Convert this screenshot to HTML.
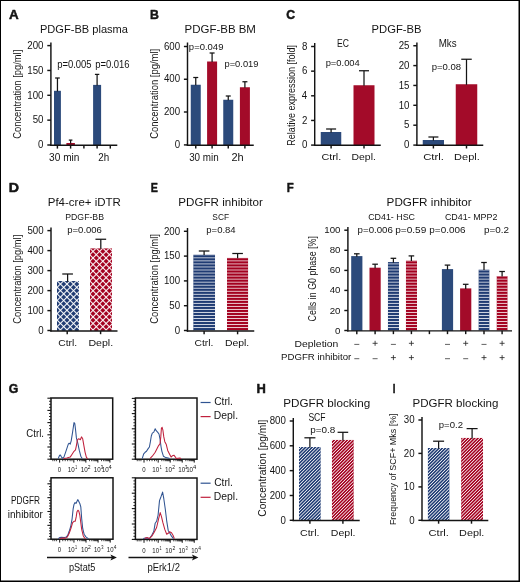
<!DOCTYPE html>
<html><head><meta charset="utf-8"><style>
html,body{margin:0;padding:0;background:#fff;}
svg{display:block;font-family:"Liberation Sans",sans-serif;will-change:transform;}
</style></head><body>
<svg width="520" height="582" viewBox="0 0 520 582">
<defs>
<clipPath id="c1"><rect x="57.00" y="281.00" width="22.00" height="49.90"/></clipPath>
<linearGradient id="g1a" gradientUnits="userSpaceOnUse" x1="57.125" y1="284.060" x2="60.400" y2="287.335" spreadMethod="repeat"><stop offset="0.0000" stop-color="#fff" stop-opacity="0.000"/><stop offset="0.0417" stop-color="#fff" stop-opacity="0.000"/><stop offset="0.0833" stop-color="#fff" stop-opacity="0.000"/><stop offset="0.1250" stop-color="#fff" stop-opacity="0.000"/><stop offset="0.1667" stop-color="#fff" stop-opacity="0.001"/><stop offset="0.2083" stop-color="#fff" stop-opacity="0.006"/><stop offset="0.2500" stop-color="#fff" stop-opacity="0.028"/><stop offset="0.2917" stop-color="#fff" stop-opacity="0.089"/><stop offset="0.3333" stop-color="#fff" stop-opacity="0.214"/><stop offset="0.3750" stop-color="#fff" stop-opacity="0.408"/><stop offset="0.4167" stop-color="#fff" stop-opacity="0.636"/><stop offset="0.4583" stop-color="#fff" stop-opacity="0.826"/><stop offset="0.5000" stop-color="#fff" stop-opacity="0.900"/><stop offset="0.5417" stop-color="#fff" stop-opacity="0.826"/><stop offset="0.5833" stop-color="#fff" stop-opacity="0.636"/><stop offset="0.6250" stop-color="#fff" stop-opacity="0.408"/><stop offset="0.6667" stop-color="#fff" stop-opacity="0.214"/><stop offset="0.7083" stop-color="#fff" stop-opacity="0.089"/><stop offset="0.7500" stop-color="#fff" stop-opacity="0.028"/><stop offset="0.7917" stop-color="#fff" stop-opacity="0.006"/><stop offset="0.8333" stop-color="#fff" stop-opacity="0.001"/><stop offset="0.8750" stop-color="#fff" stop-opacity="0.000"/><stop offset="0.9167" stop-color="#fff" stop-opacity="0.000"/><stop offset="0.9583" stop-color="#fff" stop-opacity="0.000"/><stop offset="1.0000" stop-color="#fff" stop-opacity="0.000"/></linearGradient>
<linearGradient id="g1b" gradientUnits="userSpaceOnUse" x1="57.125" y1="284.060" x2="60.400" y2="280.785" spreadMethod="repeat"><stop offset="0.0000" stop-color="#fff" stop-opacity="0.000"/><stop offset="0.0417" stop-color="#fff" stop-opacity="0.000"/><stop offset="0.0833" stop-color="#fff" stop-opacity="0.000"/><stop offset="0.1250" stop-color="#fff" stop-opacity="0.000"/><stop offset="0.1667" stop-color="#fff" stop-opacity="0.001"/><stop offset="0.2083" stop-color="#fff" stop-opacity="0.006"/><stop offset="0.2500" stop-color="#fff" stop-opacity="0.028"/><stop offset="0.2917" stop-color="#fff" stop-opacity="0.089"/><stop offset="0.3333" stop-color="#fff" stop-opacity="0.214"/><stop offset="0.3750" stop-color="#fff" stop-opacity="0.408"/><stop offset="0.4167" stop-color="#fff" stop-opacity="0.636"/><stop offset="0.4583" stop-color="#fff" stop-opacity="0.826"/><stop offset="0.5000" stop-color="#fff" stop-opacity="0.900"/><stop offset="0.5417" stop-color="#fff" stop-opacity="0.826"/><stop offset="0.5833" stop-color="#fff" stop-opacity="0.636"/><stop offset="0.6250" stop-color="#fff" stop-opacity="0.408"/><stop offset="0.6667" stop-color="#fff" stop-opacity="0.214"/><stop offset="0.7083" stop-color="#fff" stop-opacity="0.089"/><stop offset="0.7500" stop-color="#fff" stop-opacity="0.028"/><stop offset="0.7917" stop-color="#fff" stop-opacity="0.006"/><stop offset="0.8333" stop-color="#fff" stop-opacity="0.001"/><stop offset="0.8750" stop-color="#fff" stop-opacity="0.000"/><stop offset="0.9167" stop-color="#fff" stop-opacity="0.000"/><stop offset="0.9583" stop-color="#fff" stop-opacity="0.000"/><stop offset="1.0000" stop-color="#fff" stop-opacity="0.000"/></linearGradient>
<clipPath id="c2"><rect x="90.00" y="248.25" width="22.00" height="82.65"/></clipPath>
<linearGradient id="g2a" gradientUnits="userSpaceOnUse" x1="89.725" y1="251.400" x2="93.000" y2="254.675" spreadMethod="repeat"><stop offset="0.0000" stop-color="#fff" stop-opacity="0.000"/><stop offset="0.0417" stop-color="#fff" stop-opacity="0.000"/><stop offset="0.0833" stop-color="#fff" stop-opacity="0.000"/><stop offset="0.1250" stop-color="#fff" stop-opacity="0.000"/><stop offset="0.1667" stop-color="#fff" stop-opacity="0.001"/><stop offset="0.2083" stop-color="#fff" stop-opacity="0.006"/><stop offset="0.2500" stop-color="#fff" stop-opacity="0.028"/><stop offset="0.2917" stop-color="#fff" stop-opacity="0.089"/><stop offset="0.3333" stop-color="#fff" stop-opacity="0.214"/><stop offset="0.3750" stop-color="#fff" stop-opacity="0.408"/><stop offset="0.4167" stop-color="#fff" stop-opacity="0.636"/><stop offset="0.4583" stop-color="#fff" stop-opacity="0.826"/><stop offset="0.5000" stop-color="#fff" stop-opacity="0.900"/><stop offset="0.5417" stop-color="#fff" stop-opacity="0.826"/><stop offset="0.5833" stop-color="#fff" stop-opacity="0.636"/><stop offset="0.6250" stop-color="#fff" stop-opacity="0.408"/><stop offset="0.6667" stop-color="#fff" stop-opacity="0.214"/><stop offset="0.7083" stop-color="#fff" stop-opacity="0.089"/><stop offset="0.7500" stop-color="#fff" stop-opacity="0.028"/><stop offset="0.7917" stop-color="#fff" stop-opacity="0.006"/><stop offset="0.8333" stop-color="#fff" stop-opacity="0.001"/><stop offset="0.8750" stop-color="#fff" stop-opacity="0.000"/><stop offset="0.9167" stop-color="#fff" stop-opacity="0.000"/><stop offset="0.9583" stop-color="#fff" stop-opacity="0.000"/><stop offset="1.0000" stop-color="#fff" stop-opacity="0.000"/></linearGradient>
<linearGradient id="g2b" gradientUnits="userSpaceOnUse" x1="89.725" y1="251.400" x2="93.000" y2="248.125" spreadMethod="repeat"><stop offset="0.0000" stop-color="#fff" stop-opacity="0.000"/><stop offset="0.0417" stop-color="#fff" stop-opacity="0.000"/><stop offset="0.0833" stop-color="#fff" stop-opacity="0.000"/><stop offset="0.1250" stop-color="#fff" stop-opacity="0.000"/><stop offset="0.1667" stop-color="#fff" stop-opacity="0.001"/><stop offset="0.2083" stop-color="#fff" stop-opacity="0.006"/><stop offset="0.2500" stop-color="#fff" stop-opacity="0.028"/><stop offset="0.2917" stop-color="#fff" stop-opacity="0.089"/><stop offset="0.3333" stop-color="#fff" stop-opacity="0.214"/><stop offset="0.3750" stop-color="#fff" stop-opacity="0.408"/><stop offset="0.4167" stop-color="#fff" stop-opacity="0.636"/><stop offset="0.4583" stop-color="#fff" stop-opacity="0.826"/><stop offset="0.5000" stop-color="#fff" stop-opacity="0.900"/><stop offset="0.5417" stop-color="#fff" stop-opacity="0.826"/><stop offset="0.5833" stop-color="#fff" stop-opacity="0.636"/><stop offset="0.6250" stop-color="#fff" stop-opacity="0.408"/><stop offset="0.6667" stop-color="#fff" stop-opacity="0.214"/><stop offset="0.7083" stop-color="#fff" stop-opacity="0.089"/><stop offset="0.7500" stop-color="#fff" stop-opacity="0.028"/><stop offset="0.7917" stop-color="#fff" stop-opacity="0.006"/><stop offset="0.8333" stop-color="#fff" stop-opacity="0.001"/><stop offset="0.8750" stop-color="#fff" stop-opacity="0.000"/><stop offset="0.9167" stop-color="#fff" stop-opacity="0.000"/><stop offset="0.9583" stop-color="#fff" stop-opacity="0.000"/><stop offset="1.0000" stop-color="#fff" stop-opacity="0.000"/></linearGradient>
<clipPath id="c3"><rect x="193.20" y="254.50" width="21.90" height="76.50"/></clipPath>
<linearGradient id="g3" gradientUnits="userSpaceOnUse" x1="0.000" y1="298.785" x2="0.000" y2="301.815" spreadMethod="repeat"><stop offset="0.0000" stop-color="#fff" stop-opacity="0.000"/><stop offset="0.0417" stop-color="#fff" stop-opacity="0.000"/><stop offset="0.0833" stop-color="#fff" stop-opacity="0.000"/><stop offset="0.1250" stop-color="#fff" stop-opacity="0.003"/><stop offset="0.1667" stop-color="#fff" stop-opacity="0.012"/><stop offset="0.2083" stop-color="#fff" stop-opacity="0.041"/><stop offset="0.2500" stop-color="#fff" stop-opacity="0.100"/><stop offset="0.2917" stop-color="#fff" stop-opacity="0.199"/><stop offset="0.3333" stop-color="#fff" stop-opacity="0.338"/><stop offset="0.3750" stop-color="#fff" stop-opacity="0.497"/><stop offset="0.4167" stop-color="#fff" stop-opacity="0.650"/><stop offset="0.4583" stop-color="#fff" stop-opacity="0.760"/><stop offset="0.5000" stop-color="#fff" stop-opacity="0.800"/><stop offset="0.5417" stop-color="#fff" stop-opacity="0.760"/><stop offset="0.5833" stop-color="#fff" stop-opacity="0.650"/><stop offset="0.6250" stop-color="#fff" stop-opacity="0.497"/><stop offset="0.6667" stop-color="#fff" stop-opacity="0.338"/><stop offset="0.7083" stop-color="#fff" stop-opacity="0.199"/><stop offset="0.7500" stop-color="#fff" stop-opacity="0.100"/><stop offset="0.7917" stop-color="#fff" stop-opacity="0.041"/><stop offset="0.8333" stop-color="#fff" stop-opacity="0.012"/><stop offset="0.8750" stop-color="#fff" stop-opacity="0.003"/><stop offset="0.9167" stop-color="#fff" stop-opacity="0.000"/><stop offset="0.9583" stop-color="#fff" stop-opacity="0.000"/><stop offset="1.0000" stop-color="#fff" stop-opacity="0.000"/></linearGradient>
<clipPath id="c4"><rect x="227.00" y="257.75" width="21.25" height="73.25"/></clipPath>
<linearGradient id="g4" gradientUnits="userSpaceOnUse" x1="0.000" y1="298.785" x2="0.000" y2="301.815" spreadMethod="repeat"><stop offset="0.0000" stop-color="#fff" stop-opacity="0.000"/><stop offset="0.0417" stop-color="#fff" stop-opacity="0.000"/><stop offset="0.0833" stop-color="#fff" stop-opacity="0.000"/><stop offset="0.1250" stop-color="#fff" stop-opacity="0.003"/><stop offset="0.1667" stop-color="#fff" stop-opacity="0.012"/><stop offset="0.2083" stop-color="#fff" stop-opacity="0.041"/><stop offset="0.2500" stop-color="#fff" stop-opacity="0.100"/><stop offset="0.2917" stop-color="#fff" stop-opacity="0.199"/><stop offset="0.3333" stop-color="#fff" stop-opacity="0.338"/><stop offset="0.3750" stop-color="#fff" stop-opacity="0.497"/><stop offset="0.4167" stop-color="#fff" stop-opacity="0.650"/><stop offset="0.4583" stop-color="#fff" stop-opacity="0.760"/><stop offset="0.5000" stop-color="#fff" stop-opacity="0.800"/><stop offset="0.5417" stop-color="#fff" stop-opacity="0.760"/><stop offset="0.5833" stop-color="#fff" stop-opacity="0.650"/><stop offset="0.6250" stop-color="#fff" stop-opacity="0.497"/><stop offset="0.6667" stop-color="#fff" stop-opacity="0.338"/><stop offset="0.7083" stop-color="#fff" stop-opacity="0.199"/><stop offset="0.7500" stop-color="#fff" stop-opacity="0.100"/><stop offset="0.7917" stop-color="#fff" stop-opacity="0.041"/><stop offset="0.8333" stop-color="#fff" stop-opacity="0.012"/><stop offset="0.8750" stop-color="#fff" stop-opacity="0.003"/><stop offset="0.9167" stop-color="#fff" stop-opacity="0.000"/><stop offset="0.9583" stop-color="#fff" stop-opacity="0.000"/><stop offset="1.0000" stop-color="#fff" stop-opacity="0.000"/></linearGradient>
<clipPath id="c5"><rect x="387.80" y="262.10" width="11.20" height="68.75"/></clipPath>
<linearGradient id="g5" gradientUnits="userSpaceOnUse" x1="0.000" y1="298.785" x2="0.000" y2="301.815" spreadMethod="repeat"><stop offset="0.0000" stop-color="#fff" stop-opacity="0.000"/><stop offset="0.0417" stop-color="#fff" stop-opacity="0.000"/><stop offset="0.0833" stop-color="#fff" stop-opacity="0.000"/><stop offset="0.1250" stop-color="#fff" stop-opacity="0.003"/><stop offset="0.1667" stop-color="#fff" stop-opacity="0.012"/><stop offset="0.2083" stop-color="#fff" stop-opacity="0.041"/><stop offset="0.2500" stop-color="#fff" stop-opacity="0.100"/><stop offset="0.2917" stop-color="#fff" stop-opacity="0.199"/><stop offset="0.3333" stop-color="#fff" stop-opacity="0.338"/><stop offset="0.3750" stop-color="#fff" stop-opacity="0.497"/><stop offset="0.4167" stop-color="#fff" stop-opacity="0.650"/><stop offset="0.4583" stop-color="#fff" stop-opacity="0.760"/><stop offset="0.5000" stop-color="#fff" stop-opacity="0.800"/><stop offset="0.5417" stop-color="#fff" stop-opacity="0.760"/><stop offset="0.5833" stop-color="#fff" stop-opacity="0.650"/><stop offset="0.6250" stop-color="#fff" stop-opacity="0.497"/><stop offset="0.6667" stop-color="#fff" stop-opacity="0.338"/><stop offset="0.7083" stop-color="#fff" stop-opacity="0.199"/><stop offset="0.7500" stop-color="#fff" stop-opacity="0.100"/><stop offset="0.7917" stop-color="#fff" stop-opacity="0.041"/><stop offset="0.8333" stop-color="#fff" stop-opacity="0.012"/><stop offset="0.8750" stop-color="#fff" stop-opacity="0.003"/><stop offset="0.9167" stop-color="#fff" stop-opacity="0.000"/><stop offset="0.9583" stop-color="#fff" stop-opacity="0.000"/><stop offset="1.0000" stop-color="#fff" stop-opacity="0.000"/></linearGradient>
<clipPath id="c6"><rect x="405.80" y="260.40" width="11.20" height="70.45"/></clipPath>
<linearGradient id="g6" gradientUnits="userSpaceOnUse" x1="0.000" y1="298.785" x2="0.000" y2="301.815" spreadMethod="repeat"><stop offset="0.0000" stop-color="#fff" stop-opacity="0.000"/><stop offset="0.0417" stop-color="#fff" stop-opacity="0.000"/><stop offset="0.0833" stop-color="#fff" stop-opacity="0.000"/><stop offset="0.1250" stop-color="#fff" stop-opacity="0.003"/><stop offset="0.1667" stop-color="#fff" stop-opacity="0.012"/><stop offset="0.2083" stop-color="#fff" stop-opacity="0.041"/><stop offset="0.2500" stop-color="#fff" stop-opacity="0.100"/><stop offset="0.2917" stop-color="#fff" stop-opacity="0.199"/><stop offset="0.3333" stop-color="#fff" stop-opacity="0.338"/><stop offset="0.3750" stop-color="#fff" stop-opacity="0.497"/><stop offset="0.4167" stop-color="#fff" stop-opacity="0.650"/><stop offset="0.4583" stop-color="#fff" stop-opacity="0.760"/><stop offset="0.5000" stop-color="#fff" stop-opacity="0.800"/><stop offset="0.5417" stop-color="#fff" stop-opacity="0.760"/><stop offset="0.5833" stop-color="#fff" stop-opacity="0.650"/><stop offset="0.6250" stop-color="#fff" stop-opacity="0.497"/><stop offset="0.6667" stop-color="#fff" stop-opacity="0.338"/><stop offset="0.7083" stop-color="#fff" stop-opacity="0.199"/><stop offset="0.7500" stop-color="#fff" stop-opacity="0.100"/><stop offset="0.7917" stop-color="#fff" stop-opacity="0.041"/><stop offset="0.8333" stop-color="#fff" stop-opacity="0.012"/><stop offset="0.8750" stop-color="#fff" stop-opacity="0.003"/><stop offset="0.9167" stop-color="#fff" stop-opacity="0.000"/><stop offset="0.9583" stop-color="#fff" stop-opacity="0.000"/><stop offset="1.0000" stop-color="#fff" stop-opacity="0.000"/></linearGradient>
<clipPath id="c7"><rect x="478.40" y="269.40" width="11.20" height="61.45"/></clipPath>
<linearGradient id="g7" gradientUnits="userSpaceOnUse" x1="0.000" y1="298.785" x2="0.000" y2="301.815" spreadMethod="repeat"><stop offset="0.0000" stop-color="#fff" stop-opacity="0.000"/><stop offset="0.0417" stop-color="#fff" stop-opacity="0.000"/><stop offset="0.0833" stop-color="#fff" stop-opacity="0.000"/><stop offset="0.1250" stop-color="#fff" stop-opacity="0.003"/><stop offset="0.1667" stop-color="#fff" stop-opacity="0.012"/><stop offset="0.2083" stop-color="#fff" stop-opacity="0.041"/><stop offset="0.2500" stop-color="#fff" stop-opacity="0.100"/><stop offset="0.2917" stop-color="#fff" stop-opacity="0.199"/><stop offset="0.3333" stop-color="#fff" stop-opacity="0.338"/><stop offset="0.3750" stop-color="#fff" stop-opacity="0.497"/><stop offset="0.4167" stop-color="#fff" stop-opacity="0.650"/><stop offset="0.4583" stop-color="#fff" stop-opacity="0.760"/><stop offset="0.5000" stop-color="#fff" stop-opacity="0.800"/><stop offset="0.5417" stop-color="#fff" stop-opacity="0.760"/><stop offset="0.5833" stop-color="#fff" stop-opacity="0.650"/><stop offset="0.6250" stop-color="#fff" stop-opacity="0.497"/><stop offset="0.6667" stop-color="#fff" stop-opacity="0.338"/><stop offset="0.7083" stop-color="#fff" stop-opacity="0.199"/><stop offset="0.7500" stop-color="#fff" stop-opacity="0.100"/><stop offset="0.7917" stop-color="#fff" stop-opacity="0.041"/><stop offset="0.8333" stop-color="#fff" stop-opacity="0.012"/><stop offset="0.8750" stop-color="#fff" stop-opacity="0.003"/><stop offset="0.9167" stop-color="#fff" stop-opacity="0.000"/><stop offset="0.9583" stop-color="#fff" stop-opacity="0.000"/><stop offset="1.0000" stop-color="#fff" stop-opacity="0.000"/></linearGradient>
<clipPath id="c8"><rect x="496.50" y="276.00" width="11.20" height="54.85"/></clipPath>
<linearGradient id="g8" gradientUnits="userSpaceOnUse" x1="0.000" y1="298.785" x2="0.000" y2="301.815" spreadMethod="repeat"><stop offset="0.0000" stop-color="#fff" stop-opacity="0.000"/><stop offset="0.0417" stop-color="#fff" stop-opacity="0.000"/><stop offset="0.0833" stop-color="#fff" stop-opacity="0.000"/><stop offset="0.1250" stop-color="#fff" stop-opacity="0.003"/><stop offset="0.1667" stop-color="#fff" stop-opacity="0.012"/><stop offset="0.2083" stop-color="#fff" stop-opacity="0.041"/><stop offset="0.2500" stop-color="#fff" stop-opacity="0.100"/><stop offset="0.2917" stop-color="#fff" stop-opacity="0.199"/><stop offset="0.3333" stop-color="#fff" stop-opacity="0.338"/><stop offset="0.3750" stop-color="#fff" stop-opacity="0.497"/><stop offset="0.4167" stop-color="#fff" stop-opacity="0.650"/><stop offset="0.4583" stop-color="#fff" stop-opacity="0.760"/><stop offset="0.5000" stop-color="#fff" stop-opacity="0.800"/><stop offset="0.5417" stop-color="#fff" stop-opacity="0.760"/><stop offset="0.5833" stop-color="#fff" stop-opacity="0.650"/><stop offset="0.6250" stop-color="#fff" stop-opacity="0.497"/><stop offset="0.6667" stop-color="#fff" stop-opacity="0.338"/><stop offset="0.7083" stop-color="#fff" stop-opacity="0.199"/><stop offset="0.7500" stop-color="#fff" stop-opacity="0.100"/><stop offset="0.7917" stop-color="#fff" stop-opacity="0.041"/><stop offset="0.8333" stop-color="#fff" stop-opacity="0.012"/><stop offset="0.8750" stop-color="#fff" stop-opacity="0.003"/><stop offset="0.9167" stop-color="#fff" stop-opacity="0.000"/><stop offset="0.9583" stop-color="#fff" stop-opacity="0.000"/><stop offset="1.0000" stop-color="#fff" stop-opacity="0.000"/></linearGradient>
<clipPath id="c9"><rect x="299.00" y="447.00" width="21.80" height="73.40"/></clipPath>
<linearGradient id="g9" gradientUnits="userSpaceOnUse" x1="391.125" y1="391.125" x2="392.755" y2="392.755" spreadMethod="repeat"><stop offset="0.0000" stop-color="#fff" stop-opacity="0.000"/><stop offset="0.0417" stop-color="#fff" stop-opacity="0.000"/><stop offset="0.0833" stop-color="#fff" stop-opacity="0.004"/><stop offset="0.1250" stop-color="#fff" stop-opacity="0.019"/><stop offset="0.1667" stop-color="#fff" stop-opacity="0.055"/><stop offset="0.2083" stop-color="#fff" stop-opacity="0.121"/><stop offset="0.2500" stop-color="#fff" stop-opacity="0.220"/><stop offset="0.2917" stop-color="#fff" stop-opacity="0.349"/><stop offset="0.3333" stop-color="#fff" stop-opacity="0.495"/><stop offset="0.3750" stop-color="#fff" stop-opacity="0.641"/><stop offset="0.4167" stop-color="#fff" stop-opacity="0.766"/><stop offset="0.4583" stop-color="#fff" stop-opacity="0.850"/><stop offset="0.5000" stop-color="#fff" stop-opacity="0.880"/><stop offset="0.5417" stop-color="#fff" stop-opacity="0.850"/><stop offset="0.5833" stop-color="#fff" stop-opacity="0.766"/><stop offset="0.6250" stop-color="#fff" stop-opacity="0.641"/><stop offset="0.6667" stop-color="#fff" stop-opacity="0.495"/><stop offset="0.7083" stop-color="#fff" stop-opacity="0.349"/><stop offset="0.7500" stop-color="#fff" stop-opacity="0.220"/><stop offset="0.7917" stop-color="#fff" stop-opacity="0.121"/><stop offset="0.8333" stop-color="#fff" stop-opacity="0.055"/><stop offset="0.8750" stop-color="#fff" stop-opacity="0.019"/><stop offset="0.9167" stop-color="#fff" stop-opacity="0.004"/><stop offset="0.9583" stop-color="#fff" stop-opacity="0.000"/><stop offset="1.0000" stop-color="#fff" stop-opacity="0.000"/></linearGradient>
<clipPath id="c10"><rect x="331.80" y="439.80" width="22.00" height="80.60"/></clipPath>
<linearGradient id="g10" gradientUnits="userSpaceOnUse" x1="406.750" y1="406.750" x2="408.380" y2="408.380" spreadMethod="repeat"><stop offset="0.0000" stop-color="#fff" stop-opacity="0.000"/><stop offset="0.0417" stop-color="#fff" stop-opacity="0.000"/><stop offset="0.0833" stop-color="#fff" stop-opacity="0.004"/><stop offset="0.1250" stop-color="#fff" stop-opacity="0.019"/><stop offset="0.1667" stop-color="#fff" stop-opacity="0.055"/><stop offset="0.2083" stop-color="#fff" stop-opacity="0.121"/><stop offset="0.2500" stop-color="#fff" stop-opacity="0.220"/><stop offset="0.2917" stop-color="#fff" stop-opacity="0.349"/><stop offset="0.3333" stop-color="#fff" stop-opacity="0.495"/><stop offset="0.3750" stop-color="#fff" stop-opacity="0.641"/><stop offset="0.4167" stop-color="#fff" stop-opacity="0.766"/><stop offset="0.4583" stop-color="#fff" stop-opacity="0.850"/><stop offset="0.5000" stop-color="#fff" stop-opacity="0.880"/><stop offset="0.5417" stop-color="#fff" stop-opacity="0.850"/><stop offset="0.5833" stop-color="#fff" stop-opacity="0.766"/><stop offset="0.6250" stop-color="#fff" stop-opacity="0.641"/><stop offset="0.6667" stop-color="#fff" stop-opacity="0.495"/><stop offset="0.7083" stop-color="#fff" stop-opacity="0.349"/><stop offset="0.7500" stop-color="#fff" stop-opacity="0.220"/><stop offset="0.7917" stop-color="#fff" stop-opacity="0.121"/><stop offset="0.8333" stop-color="#fff" stop-opacity="0.055"/><stop offset="0.8750" stop-color="#fff" stop-opacity="0.019"/><stop offset="0.9167" stop-color="#fff" stop-opacity="0.004"/><stop offset="0.9583" stop-color="#fff" stop-opacity="0.000"/><stop offset="1.0000" stop-color="#fff" stop-opacity="0.000"/></linearGradient>
<clipPath id="c11"><rect x="427.70" y="447.90" width="21.90" height="72.50"/></clipPath>
<linearGradient id="g11" gradientUnits="userSpaceOnUse" x1="455.000" y1="455.000" x2="456.630" y2="456.630" spreadMethod="repeat"><stop offset="0.0000" stop-color="#fff" stop-opacity="0.000"/><stop offset="0.0417" stop-color="#fff" stop-opacity="0.000"/><stop offset="0.0833" stop-color="#fff" stop-opacity="0.004"/><stop offset="0.1250" stop-color="#fff" stop-opacity="0.019"/><stop offset="0.1667" stop-color="#fff" stop-opacity="0.055"/><stop offset="0.2083" stop-color="#fff" stop-opacity="0.121"/><stop offset="0.2500" stop-color="#fff" stop-opacity="0.220"/><stop offset="0.2917" stop-color="#fff" stop-opacity="0.349"/><stop offset="0.3333" stop-color="#fff" stop-opacity="0.495"/><stop offset="0.3750" stop-color="#fff" stop-opacity="0.641"/><stop offset="0.4167" stop-color="#fff" stop-opacity="0.766"/><stop offset="0.4583" stop-color="#fff" stop-opacity="0.850"/><stop offset="0.5000" stop-color="#fff" stop-opacity="0.880"/><stop offset="0.5417" stop-color="#fff" stop-opacity="0.850"/><stop offset="0.5833" stop-color="#fff" stop-opacity="0.766"/><stop offset="0.6250" stop-color="#fff" stop-opacity="0.641"/><stop offset="0.6667" stop-color="#fff" stop-opacity="0.495"/><stop offset="0.7083" stop-color="#fff" stop-opacity="0.349"/><stop offset="0.7500" stop-color="#fff" stop-opacity="0.220"/><stop offset="0.7917" stop-color="#fff" stop-opacity="0.121"/><stop offset="0.8333" stop-color="#fff" stop-opacity="0.055"/><stop offset="0.8750" stop-color="#fff" stop-opacity="0.019"/><stop offset="0.9167" stop-color="#fff" stop-opacity="0.004"/><stop offset="0.9583" stop-color="#fff" stop-opacity="0.000"/><stop offset="1.0000" stop-color="#fff" stop-opacity="0.000"/></linearGradient>
<clipPath id="c12"><rect x="461.10" y="437.80" width="22.00" height="82.60"/></clipPath>
<linearGradient id="g12" gradientUnits="userSpaceOnUse" x1="471.125" y1="471.125" x2="472.755" y2="472.755" spreadMethod="repeat"><stop offset="0.0000" stop-color="#fff" stop-opacity="0.000"/><stop offset="0.0417" stop-color="#fff" stop-opacity="0.000"/><stop offset="0.0833" stop-color="#fff" stop-opacity="0.004"/><stop offset="0.1250" stop-color="#fff" stop-opacity="0.019"/><stop offset="0.1667" stop-color="#fff" stop-opacity="0.055"/><stop offset="0.2083" stop-color="#fff" stop-opacity="0.121"/><stop offset="0.2500" stop-color="#fff" stop-opacity="0.220"/><stop offset="0.2917" stop-color="#fff" stop-opacity="0.349"/><stop offset="0.3333" stop-color="#fff" stop-opacity="0.495"/><stop offset="0.3750" stop-color="#fff" stop-opacity="0.641"/><stop offset="0.4167" stop-color="#fff" stop-opacity="0.766"/><stop offset="0.4583" stop-color="#fff" stop-opacity="0.850"/><stop offset="0.5000" stop-color="#fff" stop-opacity="0.880"/><stop offset="0.5417" stop-color="#fff" stop-opacity="0.850"/><stop offset="0.5833" stop-color="#fff" stop-opacity="0.766"/><stop offset="0.6250" stop-color="#fff" stop-opacity="0.641"/><stop offset="0.6667" stop-color="#fff" stop-opacity="0.495"/><stop offset="0.7083" stop-color="#fff" stop-opacity="0.349"/><stop offset="0.7500" stop-color="#fff" stop-opacity="0.220"/><stop offset="0.7917" stop-color="#fff" stop-opacity="0.121"/><stop offset="0.8333" stop-color="#fff" stop-opacity="0.055"/><stop offset="0.8750" stop-color="#fff" stop-opacity="0.019"/><stop offset="0.9167" stop-color="#fff" stop-opacity="0.004"/><stop offset="0.9583" stop-color="#fff" stop-opacity="0.000"/><stop offset="1.0000" stop-color="#fff" stop-opacity="0.000"/></linearGradient>
</defs>
<rect width="520" height="582" fill="#fff"/>
<text x="9.02" y="19.25" font-size="13.4" textLength="9.69" lengthAdjust="spacingAndGlyphs" font-weight="bold" fill="#141414" stroke="#141414" stroke-width="0.5" stroke-linejoin="round">A</text>
<text x="39.99" y="32.70" font-size="11" textLength="88.01" lengthAdjust="spacingAndGlyphs" fill="#141414">PDGF-BB plasma</text>
<rect x="54.00" y="90.80" width="6.90" height="54.50" fill="#2c4a7b"/>
<line x1="57.45" y1="78.00" x2="57.45" y2="91.40" stroke="#141414" stroke-width="1.25"/>
<line x1="55.10" y1="78.00" x2="59.80" y2="78.00" stroke="#141414" stroke-width="1.25"/>
<rect x="66.40" y="143.00" width="8.50" height="2.30" fill="#a30b29"/>
<line x1="70.60" y1="140.10" x2="70.60" y2="143.60" stroke="#141414" stroke-width="1.25"/>
<line x1="68.80" y1="140.10" x2="72.40" y2="140.10" stroke="#141414" stroke-width="1.25"/>
<rect x="93.10" y="84.90" width="8.00" height="60.40" fill="#2c4a7b"/>
<line x1="97.10" y1="74.40" x2="97.10" y2="85.50" stroke="#141414" stroke-width="1.25"/>
<line x1="94.90" y1="74.40" x2="99.30" y2="74.40" stroke="#141414" stroke-width="1.25"/>
<line x1="50.90" y1="42.50" x2="50.90" y2="146.03" stroke="#141414" stroke-width="1.45"/>
<line x1="47.30" y1="45.60" x2="50.90" y2="45.60" stroke="#141414" stroke-width="1.45"/>
<text x="27.29" y="48.84" font-size="10.0" textLength="16.18" lengthAdjust="spacingAndGlyphs" fill="#141414">200</text>
<line x1="47.30" y1="70.45" x2="50.90" y2="70.45" stroke="#141414" stroke-width="1.45"/>
<text x="27.29" y="73.69" font-size="10.0" textLength="16.18" lengthAdjust="spacingAndGlyphs" fill="#141414">150</text>
<line x1="47.30" y1="95.30" x2="50.90" y2="95.30" stroke="#141414" stroke-width="1.45"/>
<text x="27.29" y="98.54" font-size="10.0" textLength="16.18" lengthAdjust="spacingAndGlyphs" fill="#141414">100</text>
<line x1="47.30" y1="120.15" x2="50.90" y2="120.15" stroke="#141414" stroke-width="1.45"/>
<text x="32.69" y="123.39" font-size="10.0" textLength="10.79" lengthAdjust="spacingAndGlyphs" fill="#141414">50</text>
<line x1="47.30" y1="145.00" x2="50.90" y2="145.00" stroke="#141414" stroke-width="1.45"/>
<text x="38.08" y="148.24" font-size="10.0" textLength="5.39" lengthAdjust="spacingAndGlyphs" fill="#141414">0</text>
<line x1="50.17" y1="145.30" x2="117.30" y2="145.30" stroke="#141414" stroke-width="1.45"/>
<line x1="57.40" y1="145.30" x2="57.40" y2="148.60" stroke="#141414" stroke-width="1.45"/>
<line x1="70.60" y1="145.30" x2="70.60" y2="148.60" stroke="#141414" stroke-width="1.45"/>
<line x1="83.90" y1="145.30" x2="83.90" y2="148.60" stroke="#141414" stroke-width="1.45"/>
<line x1="97.10" y1="145.30" x2="97.10" y2="148.60" stroke="#141414" stroke-width="1.45"/>
<line x1="110.30" y1="145.30" x2="110.30" y2="148.60" stroke="#141414" stroke-width="1.45"/>
<text x="57.19" y="67.80" font-size="10.0" textLength="34.41" lengthAdjust="spacingAndGlyphs" fill="#141414">p=0.005</text>
<text x="95.19" y="67.80" font-size="10.0" textLength="34.42" lengthAdjust="spacingAndGlyphs" fill="#141414">p=0.016</text>
<text x="49.12" y="160.90" font-size="10" textLength="30.29" lengthAdjust="spacingAndGlyphs" fill="#141414">30 min</text>
<text x="98.21" y="160.90" font-size="10" textLength="10.93" lengthAdjust="spacingAndGlyphs" fill="#141414">2h</text>
<text transform="translate(21.00,138.30) rotate(-90)" x="-0.48" y="0" font-size="10.8" textLength="89.04" lengthAdjust="spacingAndGlyphs" fill="#141414">Concentration [pg/ml]</text>
<text x="150.03" y="19.25" font-size="13.4" textLength="8.88" lengthAdjust="spacingAndGlyphs" font-weight="bold" fill="#141414" stroke="#141414" stroke-width="0.5" stroke-linejoin="round">B</text>
<text x="184.56" y="32.70" font-size="11" textLength="71.38" lengthAdjust="spacingAndGlyphs" fill="#141414">PDGF-BB BM</text>
<rect x="190.75" y="84.75" width="10.00" height="60.55" fill="#2c4a7b"/>
<line x1="195.75" y1="77.50" x2="195.75" y2="85.35" stroke="#141414" stroke-width="1.25"/>
<line x1="193.25" y1="77.50" x2="198.25" y2="77.50" stroke="#141414" stroke-width="1.25"/>
<rect x="207.10" y="61.50" width="10.00" height="83.80" fill="#a30b29"/>
<line x1="212.10" y1="53.00" x2="212.10" y2="62.10" stroke="#141414" stroke-width="1.25"/>
<line x1="209.60" y1="53.00" x2="214.60" y2="53.00" stroke="#141414" stroke-width="1.25"/>
<rect x="223.25" y="99.75" width="10.00" height="45.55" fill="#2c4a7b"/>
<line x1="228.25" y1="96.00" x2="228.25" y2="100.35" stroke="#141414" stroke-width="1.25"/>
<line x1="225.75" y1="96.00" x2="230.75" y2="96.00" stroke="#141414" stroke-width="1.25"/>
<rect x="239.90" y="87.25" width="10.00" height="58.05" fill="#a30b29"/>
<line x1="244.90" y1="81.75" x2="244.90" y2="87.85" stroke="#141414" stroke-width="1.25"/>
<line x1="242.40" y1="81.75" x2="247.40" y2="81.75" stroke="#141414" stroke-width="1.25"/>
<line x1="187.50" y1="42.50" x2="187.50" y2="146.03" stroke="#141414" stroke-width="1.45"/>
<line x1="183.90" y1="46.50" x2="187.50" y2="46.50" stroke="#141414" stroke-width="1.45"/>
<text x="163.89" y="49.74" font-size="10.0" textLength="16.18" lengthAdjust="spacingAndGlyphs" fill="#141414">600</text>
<line x1="183.90" y1="79.25" x2="187.50" y2="79.25" stroke="#141414" stroke-width="1.45"/>
<text x="163.89" y="82.49" font-size="10.0" textLength="16.18" lengthAdjust="spacingAndGlyphs" fill="#141414">400</text>
<line x1="183.90" y1="112.00" x2="187.50" y2="112.00" stroke="#141414" stroke-width="1.45"/>
<text x="163.89" y="115.24" font-size="10.0" textLength="16.18" lengthAdjust="spacingAndGlyphs" fill="#141414">200</text>
<line x1="183.90" y1="144.90" x2="187.50" y2="144.90" stroke="#141414" stroke-width="1.45"/>
<text x="174.68" y="148.14" font-size="10.0" textLength="5.39" lengthAdjust="spacingAndGlyphs" fill="#141414">0</text>
<line x1="186.78" y1="145.30" x2="253.75" y2="145.30" stroke="#141414" stroke-width="1.45"/>
<line x1="195.75" y1="145.30" x2="195.75" y2="148.60" stroke="#141414" stroke-width="1.45"/>
<line x1="212.10" y1="145.30" x2="212.10" y2="148.60" stroke="#141414" stroke-width="1.45"/>
<line x1="228.25" y1="145.30" x2="228.25" y2="148.60" stroke="#141414" stroke-width="1.45"/>
<line x1="244.90" y1="145.30" x2="244.90" y2="148.60" stroke="#141414" stroke-width="1.45"/>
<text x="188.89" y="49.60" font-size="9.3" textLength="34.56" lengthAdjust="spacingAndGlyphs" fill="#141414">p=0.049</text>
<text x="224.50" y="67.40" font-size="9.3" textLength="33.94" lengthAdjust="spacingAndGlyphs" fill="#141414">p=0.019</text>
<text x="189.13" y="160.90" font-size="10" textLength="29.51" lengthAdjust="spacingAndGlyphs" fill="#141414">30 min</text>
<text x="231.45" y="160.90" font-size="10" textLength="12.27" lengthAdjust="spacingAndGlyphs" fill="#141414">2h</text>
<text transform="translate(158.20,138.30) rotate(-90)" x="-0.48" y="0" font-size="10.8" textLength="89.96" lengthAdjust="spacingAndGlyphs" fill="#141414">Concentration [pg/ml]</text>
<text x="286.25" y="19.35" font-size="13.4" textLength="8.84" lengthAdjust="spacingAndGlyphs" font-weight="bold" fill="#141414" stroke="#141414" stroke-width="0.5" stroke-linejoin="round">C</text>
<text x="371.58" y="32.70" font-size="11" textLength="50.02" lengthAdjust="spacingAndGlyphs" fill="#141414">PDGF-BB</text>
<rect x="320.75" y="132.00" width="20.50" height="13.20" fill="#2c4a7b"/>
<line x1="331.10" y1="129.00" x2="331.10" y2="132.60" stroke="#141414" stroke-width="1.25"/>
<line x1="326.10" y1="129.00" x2="336.10" y2="129.00" stroke="#141414" stroke-width="1.25"/>
<rect x="353.50" y="85.25" width="21.00" height="59.95" fill="#a30b29"/>
<line x1="364.00" y1="70.75" x2="364.00" y2="85.85" stroke="#141414" stroke-width="1.25"/>
<line x1="359.00" y1="70.75" x2="369.00" y2="70.75" stroke="#141414" stroke-width="1.25"/>
<line x1="314.70" y1="43.00" x2="314.70" y2="145.92" stroke="#141414" stroke-width="1.45"/>
<line x1="311.10" y1="46.50" x2="314.70" y2="46.50" stroke="#141414" stroke-width="1.45"/>
<text x="301.93" y="49.74" font-size="10.0" textLength="5.39" lengthAdjust="spacingAndGlyphs" fill="#141414">8</text>
<line x1="311.10" y1="71.15" x2="314.70" y2="71.15" stroke="#141414" stroke-width="1.45"/>
<text x="301.93" y="74.39" font-size="10.0" textLength="5.39" lengthAdjust="spacingAndGlyphs" fill="#141414">6</text>
<line x1="311.10" y1="95.80" x2="314.70" y2="95.80" stroke="#141414" stroke-width="1.45"/>
<text x="301.79" y="99.04" font-size="10.0" textLength="5.39" lengthAdjust="spacingAndGlyphs" fill="#141414">4</text>
<line x1="311.10" y1="120.45" x2="314.70" y2="120.45" stroke="#141414" stroke-width="1.45"/>
<text x="301.99" y="123.69" font-size="10.0" textLength="5.39" lengthAdjust="spacingAndGlyphs" fill="#141414">2</text>
<line x1="311.10" y1="145.10" x2="314.70" y2="145.10" stroke="#141414" stroke-width="1.45"/>
<text x="301.88" y="148.34" font-size="10.0" textLength="5.39" lengthAdjust="spacingAndGlyphs" fill="#141414">0</text>
<line x1="313.97" y1="145.20" x2="380.75" y2="145.20" stroke="#141414" stroke-width="1.45"/>
<line x1="331.10" y1="145.20" x2="331.10" y2="148.50" stroke="#141414" stroke-width="1.45"/>
<line x1="364.00" y1="145.20" x2="364.00" y2="148.50" stroke="#141414" stroke-width="1.45"/>
<text x="337.00" y="47.00" font-size="10" textLength="11.93" lengthAdjust="spacingAndGlyphs" fill="#141414">EC</text>
<text x="325.65" y="65.90" font-size="9.3" textLength="34.13" lengthAdjust="spacingAndGlyphs" fill="#141414">p=0.004</text>
<text x="321.45" y="159.80" font-size="9.8" textLength="19.84" lengthAdjust="spacingAndGlyphs" fill="#141414">Ctrl.</text>
<text x="351.55" y="159.80" font-size="9.8" textLength="24.30" lengthAdjust="spacingAndGlyphs" fill="#141414">Depl.</text>
<text transform="translate(295.10,144.90) rotate(-90)" x="-0.74" y="0" font-size="10.5" textLength="100.58" lengthAdjust="spacingAndGlyphs" fill="#141414">Relative expression [fold]</text>
<rect x="422.75" y="140.00" width="21.25" height="5.20" fill="#2c4a7b"/>
<line x1="433.40" y1="137.00" x2="433.40" y2="140.60" stroke="#141414" stroke-width="1.25"/>
<line x1="428.40" y1="137.00" x2="438.40" y2="137.00" stroke="#141414" stroke-width="1.25"/>
<rect x="455.75" y="84.25" width="21.50" height="60.95" fill="#a30b29"/>
<line x1="466.50" y1="59.25" x2="466.50" y2="84.85" stroke="#141414" stroke-width="1.25"/>
<line x1="461.25" y1="59.25" x2="471.75" y2="59.25" stroke="#141414" stroke-width="1.25"/>
<line x1="416.90" y1="42.50" x2="416.90" y2="145.92" stroke="#141414" stroke-width="1.45"/>
<line x1="413.30" y1="45.75" x2="416.90" y2="45.75" stroke="#141414" stroke-width="1.45"/>
<text x="398.72" y="48.99" font-size="10.0" textLength="10.79" lengthAdjust="spacingAndGlyphs" fill="#141414">25</text>
<line x1="413.30" y1="65.60" x2="416.90" y2="65.60" stroke="#141414" stroke-width="1.45"/>
<text x="398.69" y="68.84" font-size="10.0" textLength="10.79" lengthAdjust="spacingAndGlyphs" fill="#141414">20</text>
<line x1="413.30" y1="85.45" x2="416.90" y2="85.45" stroke="#141414" stroke-width="1.45"/>
<text x="398.72" y="88.69" font-size="10.0" textLength="10.79" lengthAdjust="spacingAndGlyphs" fill="#141414">15</text>
<line x1="413.30" y1="105.30" x2="416.90" y2="105.30" stroke="#141414" stroke-width="1.45"/>
<text x="398.69" y="108.54" font-size="10.0" textLength="10.79" lengthAdjust="spacingAndGlyphs" fill="#141414">10</text>
<line x1="413.30" y1="125.20" x2="416.90" y2="125.20" stroke="#141414" stroke-width="1.45"/>
<text x="404.11" y="128.44" font-size="10.0" textLength="5.39" lengthAdjust="spacingAndGlyphs" fill="#141414">5</text>
<line x1="413.30" y1="145.10" x2="416.90" y2="145.10" stroke="#141414" stroke-width="1.45"/>
<text x="404.08" y="148.34" font-size="10.0" textLength="5.39" lengthAdjust="spacingAndGlyphs" fill="#141414">0</text>
<line x1="416.17" y1="145.20" x2="483.25" y2="145.20" stroke="#141414" stroke-width="1.45"/>
<line x1="433.40" y1="145.20" x2="433.40" y2="148.50" stroke="#141414" stroke-width="1.45"/>
<line x1="466.50" y1="145.20" x2="466.50" y2="148.50" stroke="#141414" stroke-width="1.45"/>
<text x="438.70" y="47.00" font-size="10" textLength="17.90" lengthAdjust="spacingAndGlyphs" fill="#141414">Mks</text>
<text x="431.68" y="69.80" font-size="9.8" textLength="29.48" lengthAdjust="spacingAndGlyphs" fill="#141414">p=0.08</text>
<text x="423.17" y="159.80" font-size="9.8" textLength="20.87" lengthAdjust="spacingAndGlyphs" fill="#141414">Ctrl.</text>
<text x="454.10" y="159.80" font-size="9.8" textLength="25.65" lengthAdjust="spacingAndGlyphs" fill="#141414">Depl.</text>
<text x="8.70" y="192.15" font-size="13.4" textLength="10.24" lengthAdjust="spacingAndGlyphs" font-weight="bold" fill="#141414" stroke="#141414" stroke-width="0.5" stroke-linejoin="round">D</text>
<text x="47.76" y="206.00" font-size="10.7" textLength="73.18" lengthAdjust="spacingAndGlyphs" fill="#141414">Pf4-cre+ iDTR</text>
<text x="65.29" y="219.80" font-size="9.2" textLength="38.67" lengthAdjust="spacingAndGlyphs" fill="#141414">PDGF-BB</text>
<text x="67.29" y="233.40" font-size="9.2" textLength="34.63" lengthAdjust="spacingAndGlyphs" fill="#141414">p=0.006</text>
<g clip-path="url(#c1)"><rect x="57.00" y="281.00" width="22.00" height="49.90" fill="#1f3b73"/><rect x="57.00" y="281.00" width="22.00" height="49.90" fill="url(#g1a)"/><rect x="57.00" y="281.00" width="22.00" height="49.90" fill="url(#g1b)"/></g>
<line x1="67.60" y1="274.00" x2="67.60" y2="281.60" stroke="#141414" stroke-width="1.25"/>
<line x1="62.25" y1="274.00" x2="72.95" y2="274.00" stroke="#141414" stroke-width="1.25"/>
<g clip-path="url(#c2)"><rect x="90.00" y="248.25" width="22.00" height="82.65" fill="#a3001f"/><rect x="90.00" y="248.25" width="22.00" height="82.65" fill="url(#g2a)"/><rect x="90.00" y="248.25" width="22.00" height="82.65" fill="url(#g2b)"/></g>
<line x1="100.80" y1="239.25" x2="100.80" y2="248.85" stroke="#141414" stroke-width="1.25"/>
<line x1="95.45" y1="239.25" x2="106.15" y2="239.25" stroke="#141414" stroke-width="1.25"/>
<line x1="51.00" y1="227.50" x2="51.00" y2="331.62" stroke="#141414" stroke-width="1.45"/>
<line x1="47.40" y1="230.60" x2="51.00" y2="230.60" stroke="#141414" stroke-width="1.45"/>
<text x="27.39" y="233.84" font-size="10.0" textLength="16.18" lengthAdjust="spacingAndGlyphs" fill="#141414">500</text>
<line x1="47.40" y1="250.60" x2="51.00" y2="250.60" stroke="#141414" stroke-width="1.45"/>
<text x="27.39" y="253.84" font-size="10.0" textLength="16.18" lengthAdjust="spacingAndGlyphs" fill="#141414">400</text>
<line x1="47.40" y1="270.60" x2="51.00" y2="270.60" stroke="#141414" stroke-width="1.45"/>
<text x="27.39" y="273.84" font-size="10.0" textLength="16.18" lengthAdjust="spacingAndGlyphs" fill="#141414">300</text>
<line x1="47.40" y1="290.60" x2="51.00" y2="290.60" stroke="#141414" stroke-width="1.45"/>
<text x="27.39" y="293.84" font-size="10.0" textLength="16.18" lengthAdjust="spacingAndGlyphs" fill="#141414">200</text>
<line x1="47.40" y1="310.60" x2="51.00" y2="310.60" stroke="#141414" stroke-width="1.45"/>
<text x="27.39" y="313.84" font-size="10.0" textLength="16.18" lengthAdjust="spacingAndGlyphs" fill="#141414">100</text>
<line x1="47.40" y1="330.50" x2="51.00" y2="330.50" stroke="#141414" stroke-width="1.45"/>
<text x="38.18" y="333.74" font-size="10.0" textLength="5.39" lengthAdjust="spacingAndGlyphs" fill="#141414">0</text>
<line x1="50.27" y1="330.90" x2="117.50" y2="330.90" stroke="#141414" stroke-width="1.45"/>
<line x1="67.20" y1="330.90" x2="67.20" y2="334.20" stroke="#141414" stroke-width="1.45"/>
<line x1="100.60" y1="330.90" x2="100.60" y2="334.20" stroke="#141414" stroke-width="1.45"/>
<text x="58.17" y="346.20" font-size="9.4" textLength="18.97" lengthAdjust="spacingAndGlyphs" fill="#141414">Ctrl.</text>
<text x="88.43" y="346.20" font-size="9.4" textLength="24.74" lengthAdjust="spacingAndGlyphs" fill="#141414">Depl.</text>
<text transform="translate(21.00,323.30) rotate(-90)" x="-0.48" y="0" font-size="10.8" textLength="89.04" lengthAdjust="spacingAndGlyphs" fill="#141414">Concentration [pg/ml]</text>
<text x="150.83" y="192.15" font-size="13.4" textLength="7.13" lengthAdjust="spacingAndGlyphs" font-weight="bold" fill="#141414" stroke="#141414" stroke-width="0.5" stroke-linejoin="round">E</text>
<text x="178.25" y="206.00" font-size="10.7" textLength="84.65" lengthAdjust="spacingAndGlyphs" fill="#141414">PDGFR inhibitor</text>
<text x="212.32" y="219.80" font-size="9.2" textLength="16.71" lengthAdjust="spacingAndGlyphs" fill="#141414">SCF</text>
<text x="206.29" y="233.40" font-size="9.2" textLength="29.39" lengthAdjust="spacingAndGlyphs" fill="#141414">p=0.84</text>
<g clip-path="url(#c3)"><rect x="193.20" y="254.50" width="21.90" height="76.50" fill="#1f3b73"/><rect x="193.20" y="254.50" width="21.90" height="76.50" fill="url(#g3)"/></g>
<line x1="204.10" y1="251.00" x2="204.10" y2="255.10" stroke="#141414" stroke-width="1.25"/>
<line x1="198.80" y1="251.00" x2="209.40" y2="251.00" stroke="#141414" stroke-width="1.25"/>
<g clip-path="url(#c4)"><rect x="227.00" y="257.75" width="21.25" height="73.25" fill="#a3001f"/><rect x="227.00" y="257.75" width="21.25" height="73.25" fill="url(#g4)"/></g>
<line x1="237.60" y1="253.50" x2="237.60" y2="258.35" stroke="#141414" stroke-width="1.25"/>
<line x1="232.30" y1="253.50" x2="242.90" y2="253.50" stroke="#141414" stroke-width="1.25"/>
<line x1="187.50" y1="228.00" x2="187.50" y2="331.73" stroke="#141414" stroke-width="1.45"/>
<line x1="183.90" y1="231.30" x2="187.50" y2="231.30" stroke="#141414" stroke-width="1.45"/>
<text x="163.89" y="234.54" font-size="10.0" textLength="16.18" lengthAdjust="spacingAndGlyphs" fill="#141414">200</text>
<line x1="183.90" y1="256.10" x2="187.50" y2="256.10" stroke="#141414" stroke-width="1.45"/>
<text x="163.89" y="259.34" font-size="10.0" textLength="16.18" lengthAdjust="spacingAndGlyphs" fill="#141414">150</text>
<line x1="183.90" y1="280.90" x2="187.50" y2="280.90" stroke="#141414" stroke-width="1.45"/>
<text x="163.89" y="284.14" font-size="10.0" textLength="16.18" lengthAdjust="spacingAndGlyphs" fill="#141414">100</text>
<line x1="183.90" y1="305.70" x2="187.50" y2="305.70" stroke="#141414" stroke-width="1.45"/>
<text x="169.29" y="308.94" font-size="10.0" textLength="10.79" lengthAdjust="spacingAndGlyphs" fill="#141414">50</text>
<line x1="183.90" y1="330.50" x2="187.50" y2="330.50" stroke="#141414" stroke-width="1.45"/>
<text x="174.68" y="333.74" font-size="10.0" textLength="5.39" lengthAdjust="spacingAndGlyphs" fill="#141414">0</text>
<line x1="186.78" y1="331.00" x2="254.25" y2="331.00" stroke="#141414" stroke-width="1.45"/>
<line x1="204.10" y1="331.00" x2="204.10" y2="334.30" stroke="#141414" stroke-width="1.45"/>
<line x1="237.60" y1="331.00" x2="237.60" y2="334.30" stroke="#141414" stroke-width="1.45"/>
<text x="194.47" y="346.20" font-size="9.4" textLength="18.97" lengthAdjust="spacingAndGlyphs" fill="#141414">Ctrl.</text>
<text x="224.90" y="346.20" font-size="9.4" textLength="24.30" lengthAdjust="spacingAndGlyphs" fill="#141414">Depl.</text>
<text transform="translate(158.20,323.30) rotate(-90)" x="-0.48" y="0" font-size="10.8" textLength="89.65" lengthAdjust="spacingAndGlyphs" fill="#141414">Concentration [pg/ml]</text>
<text x="286.79" y="192.15" font-size="13.4" textLength="6.98" lengthAdjust="spacingAndGlyphs" font-weight="bold" fill="#141414" stroke="#141414" stroke-width="0.5" stroke-linejoin="round">F</text>
<text x="386.64" y="206.00" font-size="10.7" textLength="85.15" lengthAdjust="spacingAndGlyphs" fill="#141414">PDGFR inhibitor</text>
<text x="368.15" y="219.60" font-size="9.2" textLength="46.89" lengthAdjust="spacingAndGlyphs" fill="#141414">CD41- HSC</text>
<text x="444.95" y="219.60" font-size="9.2" textLength="52.50" lengthAdjust="spacingAndGlyphs" fill="#141414">CD41- MPP2</text>
<text x="357.57" y="233.40" font-size="9.2" textLength="35.35" lengthAdjust="spacingAndGlyphs" fill="#141414">p=0.006</text>
<text x="395.15" y="233.40" font-size="9.2" textLength="31.13" lengthAdjust="spacingAndGlyphs" fill="#141414">p=0.59</text>
<text x="429.36" y="233.40" font-size="9.2" textLength="36.07" lengthAdjust="spacingAndGlyphs" fill="#141414">p=0.006</text>
<text x="483.96" y="233.40" font-size="9.2" textLength="25.04" lengthAdjust="spacingAndGlyphs" fill="#141414">p=0.2</text>
<rect x="351.20" y="256.10" width="11.20" height="74.75" fill="#2c4a7b"/>
<line x1="356.80" y1="253.80" x2="356.80" y2="256.70" stroke="#141414" stroke-width="1.25"/>
<line x1="354.00" y1="253.80" x2="359.60" y2="253.80" stroke="#141414" stroke-width="1.25"/>
<rect x="369.50" y="267.70" width="11.20" height="63.15" fill="#a30b29"/>
<line x1="375.10" y1="264.20" x2="375.10" y2="268.30" stroke="#141414" stroke-width="1.25"/>
<line x1="372.30" y1="264.20" x2="377.90" y2="264.20" stroke="#141414" stroke-width="1.25"/>
<g clip-path="url(#c5)"><rect x="387.80" y="262.10" width="11.20" height="68.75" fill="#1f3b73"/><rect x="387.80" y="262.10" width="11.20" height="68.75" fill="url(#g5)"/></g>
<line x1="393.40" y1="258.30" x2="393.40" y2="262.70" stroke="#141414" stroke-width="1.25"/>
<line x1="390.60" y1="258.30" x2="396.20" y2="258.30" stroke="#141414" stroke-width="1.25"/>
<g clip-path="url(#c6)"><rect x="405.80" y="260.40" width="11.20" height="70.45" fill="#a3001f"/><rect x="405.80" y="260.40" width="11.20" height="70.45" fill="url(#g6)"/></g>
<line x1="411.40" y1="255.90" x2="411.40" y2="261.00" stroke="#141414" stroke-width="1.25"/>
<line x1="408.60" y1="255.90" x2="414.20" y2="255.90" stroke="#141414" stroke-width="1.25"/>
<rect x="441.90" y="269.10" width="11.20" height="61.75" fill="#2c4a7b"/>
<line x1="447.50" y1="265.10" x2="447.50" y2="269.70" stroke="#141414" stroke-width="1.25"/>
<line x1="444.70" y1="265.10" x2="450.30" y2="265.10" stroke="#141414" stroke-width="1.25"/>
<rect x="460.10" y="288.40" width="11.20" height="42.45" fill="#a30b29"/>
<line x1="465.70" y1="284.30" x2="465.70" y2="289.00" stroke="#141414" stroke-width="1.25"/>
<line x1="462.90" y1="284.30" x2="468.50" y2="284.30" stroke="#141414" stroke-width="1.25"/>
<g clip-path="url(#c7)"><rect x="478.40" y="269.40" width="11.20" height="61.45" fill="#1f3b73"/><rect x="478.40" y="269.40" width="11.20" height="61.45" fill="url(#g7)"/></g>
<line x1="484.00" y1="262.50" x2="484.00" y2="270.00" stroke="#141414" stroke-width="1.25"/>
<line x1="481.20" y1="262.50" x2="486.80" y2="262.50" stroke="#141414" stroke-width="1.25"/>
<g clip-path="url(#c8)"><rect x="496.50" y="276.00" width="11.20" height="54.85" fill="#a3001f"/><rect x="496.50" y="276.00" width="11.20" height="54.85" fill="url(#g8)"/></g>
<line x1="502.10" y1="271.50" x2="502.10" y2="276.60" stroke="#141414" stroke-width="1.25"/>
<line x1="499.30" y1="271.50" x2="504.90" y2="271.50" stroke="#141414" stroke-width="1.25"/>
<line x1="347.90" y1="227.00" x2="347.90" y2="331.58" stroke="#141414" stroke-width="1.45"/>
<line x1="344.30" y1="230.20" x2="347.90" y2="230.20" stroke="#141414" stroke-width="1.45"/>
<text x="324.29" y="233.23" font-size="9.4" textLength="16.18" lengthAdjust="spacingAndGlyphs" fill="#141414">100</text>
<line x1="344.30" y1="250.30" x2="347.90" y2="250.30" stroke="#141414" stroke-width="1.45"/>
<text x="329.69" y="253.33" font-size="9.4" textLength="10.79" lengthAdjust="spacingAndGlyphs" fill="#141414">80</text>
<line x1="344.30" y1="270.40" x2="347.90" y2="270.40" stroke="#141414" stroke-width="1.45"/>
<text x="329.69" y="273.43" font-size="9.4" textLength="10.79" lengthAdjust="spacingAndGlyphs" fill="#141414">60</text>
<line x1="344.30" y1="290.40" x2="347.90" y2="290.40" stroke="#141414" stroke-width="1.45"/>
<text x="329.69" y="293.43" font-size="9.4" textLength="10.79" lengthAdjust="spacingAndGlyphs" fill="#141414">40</text>
<line x1="344.30" y1="310.50" x2="347.90" y2="310.50" stroke="#141414" stroke-width="1.45"/>
<text x="329.69" y="313.53" font-size="9.4" textLength="10.79" lengthAdjust="spacingAndGlyphs" fill="#141414">20</text>
<line x1="344.30" y1="330.50" x2="347.90" y2="330.50" stroke="#141414" stroke-width="1.45"/>
<text x="335.08" y="333.53" font-size="9.4" textLength="5.39" lengthAdjust="spacingAndGlyphs" fill="#141414">0</text>
<line x1="347.17" y1="330.85" x2="512.00" y2="330.85" stroke="#141414" stroke-width="1.45"/>
<line x1="356.80" y1="330.85" x2="356.80" y2="334.15" stroke="#141414" stroke-width="1.45"/>
<line x1="375.10" y1="330.85" x2="375.10" y2="334.15" stroke="#141414" stroke-width="1.45"/>
<line x1="393.40" y1="330.85" x2="393.40" y2="334.15" stroke="#141414" stroke-width="1.45"/>
<line x1="411.40" y1="330.85" x2="411.40" y2="334.15" stroke="#141414" stroke-width="1.45"/>
<line x1="429.40" y1="330.85" x2="429.40" y2="334.15" stroke="#141414" stroke-width="1.45"/>
<line x1="447.50" y1="330.85" x2="447.50" y2="334.15" stroke="#141414" stroke-width="1.45"/>
<line x1="465.70" y1="330.85" x2="465.70" y2="334.15" stroke="#141414" stroke-width="1.45"/>
<line x1="484.00" y1="330.85" x2="484.00" y2="334.15" stroke="#141414" stroke-width="1.45"/>
<line x1="502.10" y1="330.85" x2="502.10" y2="334.15" stroke="#141414" stroke-width="1.45"/>
<text x="294.55" y="346.50" font-size="9.8" textLength="43.82" lengthAdjust="spacingAndGlyphs" fill="#141414">Depletion</text>
<text x="281.01" y="360.10" font-size="9.8" textLength="70.25" lengthAdjust="spacingAndGlyphs" fill="#141414">PDGFR inhibitor</text>
<line x1="354.30" y1="344.40" x2="359.30" y2="344.40" stroke="#3a3a3a" stroke-width="0.8"/>
<line x1="372.60" y1="343.30" x2="377.60" y2="343.30" stroke="#2a2a2a" stroke-width="0.85"/>
<line x1="375.10" y1="340.80" x2="375.10" y2="345.80" stroke="#2a2a2a" stroke-width="0.85"/>
<line x1="390.90" y1="344.40" x2="395.90" y2="344.40" stroke="#3a3a3a" stroke-width="0.8"/>
<line x1="408.90" y1="343.30" x2="413.90" y2="343.30" stroke="#2a2a2a" stroke-width="0.85"/>
<line x1="411.40" y1="340.80" x2="411.40" y2="345.80" stroke="#2a2a2a" stroke-width="0.85"/>
<line x1="445.00" y1="344.40" x2="450.00" y2="344.40" stroke="#3a3a3a" stroke-width="0.8"/>
<line x1="463.20" y1="343.30" x2="468.20" y2="343.30" stroke="#2a2a2a" stroke-width="0.85"/>
<line x1="465.70" y1="340.80" x2="465.70" y2="345.80" stroke="#2a2a2a" stroke-width="0.85"/>
<line x1="481.50" y1="344.40" x2="486.50" y2="344.40" stroke="#3a3a3a" stroke-width="0.8"/>
<line x1="499.60" y1="343.30" x2="504.60" y2="343.30" stroke="#2a2a2a" stroke-width="0.85"/>
<line x1="502.10" y1="340.80" x2="502.10" y2="345.80" stroke="#2a2a2a" stroke-width="0.85"/>
<line x1="354.30" y1="358.70" x2="359.30" y2="358.70" stroke="#3a3a3a" stroke-width="0.8"/>
<line x1="372.60" y1="358.70" x2="377.60" y2="358.70" stroke="#3a3a3a" stroke-width="0.8"/>
<line x1="390.90" y1="357.60" x2="395.90" y2="357.60" stroke="#2a2a2a" stroke-width="0.85"/>
<line x1="393.40" y1="355.10" x2="393.40" y2="360.10" stroke="#2a2a2a" stroke-width="0.85"/>
<line x1="408.90" y1="357.60" x2="413.90" y2="357.60" stroke="#2a2a2a" stroke-width="0.85"/>
<line x1="411.40" y1="355.10" x2="411.40" y2="360.10" stroke="#2a2a2a" stroke-width="0.85"/>
<line x1="445.00" y1="358.70" x2="450.00" y2="358.70" stroke="#3a3a3a" stroke-width="0.8"/>
<line x1="463.20" y1="358.70" x2="468.20" y2="358.70" stroke="#3a3a3a" stroke-width="0.8"/>
<line x1="481.50" y1="357.60" x2="486.50" y2="357.60" stroke="#2a2a2a" stroke-width="0.85"/>
<line x1="484.00" y1="355.10" x2="484.00" y2="360.10" stroke="#2a2a2a" stroke-width="0.85"/>
<line x1="499.60" y1="357.60" x2="504.60" y2="357.60" stroke="#2a2a2a" stroke-width="0.85"/>
<line x1="502.10" y1="355.10" x2="502.10" y2="360.10" stroke="#2a2a2a" stroke-width="0.85"/>
<text transform="translate(316.10,321.00) rotate(-90)" x="-0.45" y="0" font-size="10.5" textLength="85.38" lengthAdjust="spacingAndGlyphs" fill="#141414">Cells in G0 phase [%]</text>
<text x="8.85" y="393.15" font-size="13.4" textLength="9.57" lengthAdjust="spacingAndGlyphs" font-weight="bold" fill="#141414" stroke="#141414" stroke-width="0.5" stroke-linejoin="round">G</text>
<text x="26.31" y="436.50" font-size="11.5" textLength="17.67" lengthAdjust="spacingAndGlyphs" fill="#141414">Ctrl.</text>
<text x="11.02" y="504.30" font-size="11.3" textLength="28.96" lengthAdjust="spacingAndGlyphs" fill="#141414">PDGFR</text>
<text x="7.83" y="518.00" font-size="11.3" textLength="34.93" lengthAdjust="spacingAndGlyphs" fill="#141414">inhibitor</text>
<rect x="51" y="398" width="61.7" height="61.19999999999999" fill="none" stroke="#141414" stroke-width="1.5"/>
<line x1="47.40" y1="459.20" x2="51.00" y2="459.20" stroke="#141414" stroke-width="1.1"/>
<line x1="49.00" y1="456.15" x2="51.00" y2="456.15" stroke="#141414" stroke-width="0.9"/>
<line x1="49.00" y1="453.10" x2="51.00" y2="453.10" stroke="#141414" stroke-width="0.9"/>
<line x1="49.00" y1="450.05" x2="51.00" y2="450.05" stroke="#141414" stroke-width="0.9"/>
<line x1="47.40" y1="447.00" x2="51.00" y2="447.00" stroke="#141414" stroke-width="1.1"/>
<line x1="49.00" y1="443.95" x2="51.00" y2="443.95" stroke="#141414" stroke-width="0.9"/>
<line x1="49.00" y1="440.90" x2="51.00" y2="440.90" stroke="#141414" stroke-width="0.9"/>
<line x1="49.00" y1="437.85" x2="51.00" y2="437.85" stroke="#141414" stroke-width="0.9"/>
<line x1="47.40" y1="434.80" x2="51.00" y2="434.80" stroke="#141414" stroke-width="1.1"/>
<line x1="49.00" y1="431.75" x2="51.00" y2="431.75" stroke="#141414" stroke-width="0.9"/>
<line x1="49.00" y1="428.70" x2="51.00" y2="428.70" stroke="#141414" stroke-width="0.9"/>
<line x1="49.00" y1="425.65" x2="51.00" y2="425.65" stroke="#141414" stroke-width="0.9"/>
<line x1="47.40" y1="422.60" x2="51.00" y2="422.60" stroke="#141414" stroke-width="1.1"/>
<line x1="49.00" y1="419.55" x2="51.00" y2="419.55" stroke="#141414" stroke-width="0.9"/>
<line x1="49.00" y1="416.50" x2="51.00" y2="416.50" stroke="#141414" stroke-width="0.9"/>
<line x1="49.00" y1="413.45" x2="51.00" y2="413.45" stroke="#141414" stroke-width="0.9"/>
<line x1="47.40" y1="410.40" x2="51.00" y2="410.40" stroke="#141414" stroke-width="1.1"/>
<line x1="49.00" y1="407.35" x2="51.00" y2="407.35" stroke="#141414" stroke-width="0.9"/>
<line x1="49.00" y1="404.30" x2="51.00" y2="404.30" stroke="#141414" stroke-width="0.9"/>
<line x1="49.00" y1="401.25" x2="51.00" y2="401.25" stroke="#141414" stroke-width="0.9"/>
<line x1="47.40" y1="398.20" x2="51.00" y2="398.20" stroke="#141414" stroke-width="1.1"/>
<line x1="59.64" y1="459.20" x2="59.64" y2="462.60" stroke="#141414" stroke-width="1.0"/>
<line x1="73.83" y1="459.20" x2="73.83" y2="462.60" stroke="#141414" stroke-width="1.0"/>
<line x1="85.86" y1="459.20" x2="85.86" y2="462.60" stroke="#141414" stroke-width="1.0"/>
<line x1="97.89" y1="459.20" x2="97.89" y2="462.60" stroke="#141414" stroke-width="1.0"/>
<line x1="109.92" y1="459.20" x2="109.92" y2="462.60" stroke="#141414" stroke-width="1.0"/>
<line x1="77.45" y1="459.20" x2="77.45" y2="461.20" stroke="#141414" stroke-width="0.8"/>
<line x1="79.57" y1="459.20" x2="79.57" y2="461.20" stroke="#141414" stroke-width="0.8"/>
<line x1="81.07" y1="459.20" x2="81.07" y2="461.20" stroke="#141414" stroke-width="0.8"/>
<line x1="82.24" y1="459.20" x2="82.24" y2="461.20" stroke="#141414" stroke-width="0.8"/>
<line x1="83.19" y1="459.20" x2="83.19" y2="461.20" stroke="#141414" stroke-width="0.8"/>
<line x1="84.00" y1="459.20" x2="84.00" y2="461.20" stroke="#141414" stroke-width="0.8"/>
<line x1="84.69" y1="459.20" x2="84.69" y2="461.20" stroke="#141414" stroke-width="0.8"/>
<line x1="85.31" y1="459.20" x2="85.31" y2="461.20" stroke="#141414" stroke-width="0.8"/>
<line x1="89.48" y1="459.20" x2="89.48" y2="461.20" stroke="#141414" stroke-width="0.8"/>
<line x1="91.60" y1="459.20" x2="91.60" y2="461.20" stroke="#141414" stroke-width="0.8"/>
<line x1="93.10" y1="459.20" x2="93.10" y2="461.20" stroke="#141414" stroke-width="0.8"/>
<line x1="94.27" y1="459.20" x2="94.27" y2="461.20" stroke="#141414" stroke-width="0.8"/>
<line x1="95.22" y1="459.20" x2="95.22" y2="461.20" stroke="#141414" stroke-width="0.8"/>
<line x1="96.03" y1="459.20" x2="96.03" y2="461.20" stroke="#141414" stroke-width="0.8"/>
<line x1="96.73" y1="459.20" x2="96.73" y2="461.20" stroke="#141414" stroke-width="0.8"/>
<line x1="97.34" y1="459.20" x2="97.34" y2="461.20" stroke="#141414" stroke-width="0.8"/>
<line x1="101.51" y1="459.20" x2="101.51" y2="461.20" stroke="#141414" stroke-width="0.8"/>
<line x1="103.63" y1="459.20" x2="103.63" y2="461.20" stroke="#141414" stroke-width="0.8"/>
<line x1="105.14" y1="459.20" x2="105.14" y2="461.20" stroke="#141414" stroke-width="0.8"/>
<line x1="106.30" y1="459.20" x2="106.30" y2="461.20" stroke="#141414" stroke-width="0.8"/>
<line x1="107.25" y1="459.20" x2="107.25" y2="461.20" stroke="#141414" stroke-width="0.8"/>
<line x1="108.06" y1="459.20" x2="108.06" y2="461.20" stroke="#141414" stroke-width="0.8"/>
<line x1="108.76" y1="459.20" x2="108.76" y2="461.20" stroke="#141414" stroke-width="0.8"/>
<line x1="109.37" y1="459.20" x2="109.37" y2="461.20" stroke="#141414" stroke-width="0.8"/>
<line x1="52.85" y1="459.20" x2="52.85" y2="461.20" stroke="#141414" stroke-width="0.8"/>
<line x1="54.70" y1="459.20" x2="54.70" y2="461.20" stroke="#141414" stroke-width="0.8"/>
<line x1="56.55" y1="459.20" x2="56.55" y2="461.20" stroke="#141414" stroke-width="0.8"/>
<line x1="62.72" y1="459.20" x2="62.72" y2="461.20" stroke="#141414" stroke-width="0.8"/>
<line x1="65.19" y1="459.20" x2="65.19" y2="461.20" stroke="#141414" stroke-width="0.8"/>
<line x1="67.66" y1="459.20" x2="67.66" y2="461.20" stroke="#141414" stroke-width="0.8"/>
<line x1="70.13" y1="459.20" x2="70.13" y2="461.20" stroke="#141414" stroke-width="0.8"/>
<line x1="71.98" y1="459.20" x2="71.98" y2="461.20" stroke="#141414" stroke-width="0.8"/>
<text x="57.86" y="472.30" font-size="7.0" textLength="3.37" lengthAdjust="spacingAndGlyphs" fill="#141414">0</text>
<text x="67.83" y="472.30" font-size="7.0" textLength="6.92" lengthAdjust="spacingAndGlyphs" fill="#141414">10</text>
<text x="75.33" y="469.40" font-size="5.4" textLength="1.93" lengthAdjust="spacingAndGlyphs" fill="#141414">1</text>
<text x="80.72" y="472.30" font-size="7.0" textLength="7.03" lengthAdjust="spacingAndGlyphs" fill="#141414">10</text>
<text x="87.85" y="469.40" font-size="5.4" textLength="2.75" lengthAdjust="spacingAndGlyphs" fill="#141414">2</text>
<text x="93.83" y="472.30" font-size="7.0" textLength="6.92" lengthAdjust="spacingAndGlyphs" fill="#141414">10</text>
<text x="100.69" y="469.40" font-size="5.4" textLength="2.35" lengthAdjust="spacingAndGlyphs" fill="#141414">3</text>
<text x="101.73" y="472.30" font-size="7.0" textLength="6.92" lengthAdjust="spacingAndGlyphs" fill="#141414">10</text>
<text x="108.57" y="469.40" font-size="5.4" textLength="3.20" lengthAdjust="spacingAndGlyphs" fill="#141414">4</text>
<rect x="135.4" y="398" width="61.599999999999994" height="61.19999999999999" fill="none" stroke="#141414" stroke-width="1.5"/>
<line x1="131.80" y1="459.20" x2="135.40" y2="459.20" stroke="#141414" stroke-width="1.1"/>
<line x1="133.40" y1="456.16" x2="135.40" y2="456.16" stroke="#141414" stroke-width="0.9"/>
<line x1="133.40" y1="453.12" x2="135.40" y2="453.12" stroke="#141414" stroke-width="0.9"/>
<line x1="133.40" y1="450.08" x2="135.40" y2="450.08" stroke="#141414" stroke-width="0.9"/>
<line x1="133.40" y1="447.04" x2="135.40" y2="447.04" stroke="#141414" stroke-width="0.9"/>
<line x1="131.80" y1="444.00" x2="135.40" y2="444.00" stroke="#141414" stroke-width="1.1"/>
<line x1="133.40" y1="440.96" x2="135.40" y2="440.96" stroke="#141414" stroke-width="0.9"/>
<line x1="133.40" y1="437.92" x2="135.40" y2="437.92" stroke="#141414" stroke-width="0.9"/>
<line x1="133.40" y1="434.88" x2="135.40" y2="434.88" stroke="#141414" stroke-width="0.9"/>
<line x1="133.40" y1="431.84" x2="135.40" y2="431.84" stroke="#141414" stroke-width="0.9"/>
<line x1="131.80" y1="428.80" x2="135.40" y2="428.80" stroke="#141414" stroke-width="1.1"/>
<line x1="133.40" y1="425.76" x2="135.40" y2="425.76" stroke="#141414" stroke-width="0.9"/>
<line x1="133.40" y1="422.72" x2="135.40" y2="422.72" stroke="#141414" stroke-width="0.9"/>
<line x1="133.40" y1="419.68" x2="135.40" y2="419.68" stroke="#141414" stroke-width="0.9"/>
<line x1="133.40" y1="416.64" x2="135.40" y2="416.64" stroke="#141414" stroke-width="0.9"/>
<line x1="131.80" y1="413.60" x2="135.40" y2="413.60" stroke="#141414" stroke-width="1.1"/>
<line x1="133.40" y1="410.56" x2="135.40" y2="410.56" stroke="#141414" stroke-width="0.9"/>
<line x1="133.40" y1="407.52" x2="135.40" y2="407.52" stroke="#141414" stroke-width="0.9"/>
<line x1="133.40" y1="404.48" x2="135.40" y2="404.48" stroke="#141414" stroke-width="0.9"/>
<line x1="133.40" y1="401.44" x2="135.40" y2="401.44" stroke="#141414" stroke-width="0.9"/>
<line x1="131.80" y1="398.40" x2="135.40" y2="398.40" stroke="#141414" stroke-width="1.1"/>
<line x1="144.02" y1="459.20" x2="144.02" y2="462.60" stroke="#141414" stroke-width="1.0"/>
<line x1="158.19" y1="459.20" x2="158.19" y2="462.60" stroke="#141414" stroke-width="1.0"/>
<line x1="170.20" y1="459.20" x2="170.20" y2="462.60" stroke="#141414" stroke-width="1.0"/>
<line x1="182.22" y1="459.20" x2="182.22" y2="462.60" stroke="#141414" stroke-width="1.0"/>
<line x1="194.23" y1="459.20" x2="194.23" y2="462.60" stroke="#141414" stroke-width="1.0"/>
<line x1="161.81" y1="459.20" x2="161.81" y2="461.20" stroke="#141414" stroke-width="0.8"/>
<line x1="163.92" y1="459.20" x2="163.92" y2="461.20" stroke="#141414" stroke-width="0.8"/>
<line x1="165.42" y1="459.20" x2="165.42" y2="461.20" stroke="#141414" stroke-width="0.8"/>
<line x1="166.59" y1="459.20" x2="166.59" y2="461.20" stroke="#141414" stroke-width="0.8"/>
<line x1="167.54" y1="459.20" x2="167.54" y2="461.20" stroke="#141414" stroke-width="0.8"/>
<line x1="168.34" y1="459.20" x2="168.34" y2="461.20" stroke="#141414" stroke-width="0.8"/>
<line x1="169.04" y1="459.20" x2="169.04" y2="461.20" stroke="#141414" stroke-width="0.8"/>
<line x1="169.65" y1="459.20" x2="169.65" y2="461.20" stroke="#141414" stroke-width="0.8"/>
<line x1="173.82" y1="459.20" x2="173.82" y2="461.20" stroke="#141414" stroke-width="0.8"/>
<line x1="175.94" y1="459.20" x2="175.94" y2="461.20" stroke="#141414" stroke-width="0.8"/>
<line x1="177.44" y1="459.20" x2="177.44" y2="461.20" stroke="#141414" stroke-width="0.8"/>
<line x1="178.60" y1="459.20" x2="178.60" y2="461.20" stroke="#141414" stroke-width="0.8"/>
<line x1="179.55" y1="459.20" x2="179.55" y2="461.20" stroke="#141414" stroke-width="0.8"/>
<line x1="180.36" y1="459.20" x2="180.36" y2="461.20" stroke="#141414" stroke-width="0.8"/>
<line x1="181.05" y1="459.20" x2="181.05" y2="461.20" stroke="#141414" stroke-width="0.8"/>
<line x1="181.67" y1="459.20" x2="181.67" y2="461.20" stroke="#141414" stroke-width="0.8"/>
<line x1="185.83" y1="459.20" x2="185.83" y2="461.20" stroke="#141414" stroke-width="0.8"/>
<line x1="187.95" y1="459.20" x2="187.95" y2="461.20" stroke="#141414" stroke-width="0.8"/>
<line x1="189.45" y1="459.20" x2="189.45" y2="461.20" stroke="#141414" stroke-width="0.8"/>
<line x1="190.61" y1="459.20" x2="190.61" y2="461.20" stroke="#141414" stroke-width="0.8"/>
<line x1="191.56" y1="459.20" x2="191.56" y2="461.20" stroke="#141414" stroke-width="0.8"/>
<line x1="192.37" y1="459.20" x2="192.37" y2="461.20" stroke="#141414" stroke-width="0.8"/>
<line x1="193.06" y1="459.20" x2="193.06" y2="461.20" stroke="#141414" stroke-width="0.8"/>
<line x1="193.68" y1="459.20" x2="193.68" y2="461.20" stroke="#141414" stroke-width="0.8"/>
<line x1="137.25" y1="459.20" x2="137.25" y2="461.20" stroke="#141414" stroke-width="0.8"/>
<line x1="139.10" y1="459.20" x2="139.10" y2="461.20" stroke="#141414" stroke-width="0.8"/>
<line x1="140.94" y1="459.20" x2="140.94" y2="461.20" stroke="#141414" stroke-width="0.8"/>
<line x1="147.10" y1="459.20" x2="147.10" y2="461.20" stroke="#141414" stroke-width="0.8"/>
<line x1="149.57" y1="459.20" x2="149.57" y2="461.20" stroke="#141414" stroke-width="0.8"/>
<line x1="152.03" y1="459.20" x2="152.03" y2="461.20" stroke="#141414" stroke-width="0.8"/>
<line x1="154.50" y1="459.20" x2="154.50" y2="461.20" stroke="#141414" stroke-width="0.8"/>
<line x1="156.34" y1="459.20" x2="156.34" y2="461.20" stroke="#141414" stroke-width="0.8"/>
<text x="142.26" y="472.30" font-size="7.0" textLength="3.37" lengthAdjust="spacingAndGlyphs" fill="#141414">0</text>
<text x="152.23" y="472.30" font-size="7.0" textLength="6.92" lengthAdjust="spacingAndGlyphs" fill="#141414">10</text>
<text x="159.73" y="469.40" font-size="5.4" textLength="1.93" lengthAdjust="spacingAndGlyphs" fill="#141414">1</text>
<text x="165.12" y="472.30" font-size="7.0" textLength="7.03" lengthAdjust="spacingAndGlyphs" fill="#141414">10</text>
<text x="172.25" y="469.40" font-size="5.4" textLength="2.75" lengthAdjust="spacingAndGlyphs" fill="#141414">2</text>
<text x="178.23" y="472.30" font-size="7.0" textLength="6.92" lengthAdjust="spacingAndGlyphs" fill="#141414">10</text>
<text x="185.09" y="469.40" font-size="5.4" textLength="2.35" lengthAdjust="spacingAndGlyphs" fill="#141414">3</text>
<text x="186.13" y="472.30" font-size="7.0" textLength="6.92" lengthAdjust="spacingAndGlyphs" fill="#141414">10</text>
<text x="192.97" y="469.40" font-size="5.4" textLength="3.20" lengthAdjust="spacingAndGlyphs" fill="#141414">4</text>
<rect x="51" y="477.8" width="62" height="61.400000000000034" fill="none" stroke="#141414" stroke-width="1.5"/>
<line x1="47.40" y1="539.20" x2="51.00" y2="539.20" stroke="#141414" stroke-width="1.1"/>
<line x1="49.00" y1="536.43" x2="51.00" y2="536.43" stroke="#141414" stroke-width="0.9"/>
<line x1="49.00" y1="533.66" x2="51.00" y2="533.66" stroke="#141414" stroke-width="0.9"/>
<line x1="49.00" y1="530.89" x2="51.00" y2="530.89" stroke="#141414" stroke-width="0.9"/>
<line x1="49.00" y1="528.12" x2="51.00" y2="528.12" stroke="#141414" stroke-width="0.9"/>
<line x1="47.40" y1="525.35" x2="51.00" y2="525.35" stroke="#141414" stroke-width="1.1"/>
<line x1="49.00" y1="522.58" x2="51.00" y2="522.58" stroke="#141414" stroke-width="0.9"/>
<line x1="49.00" y1="519.81" x2="51.00" y2="519.81" stroke="#141414" stroke-width="0.9"/>
<line x1="49.00" y1="517.04" x2="51.00" y2="517.04" stroke="#141414" stroke-width="0.9"/>
<line x1="49.00" y1="514.27" x2="51.00" y2="514.27" stroke="#141414" stroke-width="0.9"/>
<line x1="47.40" y1="511.50" x2="51.00" y2="511.50" stroke="#141414" stroke-width="1.1"/>
<line x1="49.00" y1="508.73" x2="51.00" y2="508.73" stroke="#141414" stroke-width="0.9"/>
<line x1="49.00" y1="505.96" x2="51.00" y2="505.96" stroke="#141414" stroke-width="0.9"/>
<line x1="49.00" y1="503.19" x2="51.00" y2="503.19" stroke="#141414" stroke-width="0.9"/>
<line x1="49.00" y1="500.42" x2="51.00" y2="500.42" stroke="#141414" stroke-width="0.9"/>
<line x1="47.40" y1="497.65" x2="51.00" y2="497.65" stroke="#141414" stroke-width="1.1"/>
<line x1="49.00" y1="494.88" x2="51.00" y2="494.88" stroke="#141414" stroke-width="0.9"/>
<line x1="49.00" y1="492.11" x2="51.00" y2="492.11" stroke="#141414" stroke-width="0.9"/>
<line x1="49.00" y1="489.34" x2="51.00" y2="489.34" stroke="#141414" stroke-width="0.9"/>
<line x1="49.00" y1="486.57" x2="51.00" y2="486.57" stroke="#141414" stroke-width="0.9"/>
<line x1="47.40" y1="483.80" x2="51.00" y2="483.80" stroke="#141414" stroke-width="1.1"/>
<line x1="49.00" y1="481.03" x2="51.00" y2="481.03" stroke="#141414" stroke-width="0.9"/>
<line x1="59.68" y1="539.20" x2="59.68" y2="542.60" stroke="#141414" stroke-width="1.0"/>
<line x1="73.94" y1="539.20" x2="73.94" y2="542.60" stroke="#141414" stroke-width="1.0"/>
<line x1="86.03" y1="539.20" x2="86.03" y2="542.60" stroke="#141414" stroke-width="1.0"/>
<line x1="98.12" y1="539.20" x2="98.12" y2="542.60" stroke="#141414" stroke-width="1.0"/>
<line x1="110.21" y1="539.20" x2="110.21" y2="542.60" stroke="#141414" stroke-width="1.0"/>
<line x1="77.58" y1="539.20" x2="77.58" y2="541.20" stroke="#141414" stroke-width="0.8"/>
<line x1="79.71" y1="539.20" x2="79.71" y2="541.20" stroke="#141414" stroke-width="0.8"/>
<line x1="81.22" y1="539.20" x2="81.22" y2="541.20" stroke="#141414" stroke-width="0.8"/>
<line x1="82.39" y1="539.20" x2="82.39" y2="541.20" stroke="#141414" stroke-width="0.8"/>
<line x1="83.35" y1="539.20" x2="83.35" y2="541.20" stroke="#141414" stroke-width="0.8"/>
<line x1="84.16" y1="539.20" x2="84.16" y2="541.20" stroke="#141414" stroke-width="0.8"/>
<line x1="84.86" y1="539.20" x2="84.86" y2="541.20" stroke="#141414" stroke-width="0.8"/>
<line x1="85.48" y1="539.20" x2="85.48" y2="541.20" stroke="#141414" stroke-width="0.8"/>
<line x1="89.67" y1="539.20" x2="89.67" y2="541.20" stroke="#141414" stroke-width="0.8"/>
<line x1="91.80" y1="539.20" x2="91.80" y2="541.20" stroke="#141414" stroke-width="0.8"/>
<line x1="93.31" y1="539.20" x2="93.31" y2="541.20" stroke="#141414" stroke-width="0.8"/>
<line x1="94.48" y1="539.20" x2="94.48" y2="541.20" stroke="#141414" stroke-width="0.8"/>
<line x1="95.44" y1="539.20" x2="95.44" y2="541.20" stroke="#141414" stroke-width="0.8"/>
<line x1="96.25" y1="539.20" x2="96.25" y2="541.20" stroke="#141414" stroke-width="0.8"/>
<line x1="96.95" y1="539.20" x2="96.95" y2="541.20" stroke="#141414" stroke-width="0.8"/>
<line x1="97.57" y1="539.20" x2="97.57" y2="541.20" stroke="#141414" stroke-width="0.8"/>
<line x1="101.76" y1="539.20" x2="101.76" y2="541.20" stroke="#141414" stroke-width="0.8"/>
<line x1="103.89" y1="539.20" x2="103.89" y2="541.20" stroke="#141414" stroke-width="0.8"/>
<line x1="105.40" y1="539.20" x2="105.40" y2="541.20" stroke="#141414" stroke-width="0.8"/>
<line x1="106.57" y1="539.20" x2="106.57" y2="541.20" stroke="#141414" stroke-width="0.8"/>
<line x1="107.53" y1="539.20" x2="107.53" y2="541.20" stroke="#141414" stroke-width="0.8"/>
<line x1="108.34" y1="539.20" x2="108.34" y2="541.20" stroke="#141414" stroke-width="0.8"/>
<line x1="109.04" y1="539.20" x2="109.04" y2="541.20" stroke="#141414" stroke-width="0.8"/>
<line x1="109.66" y1="539.20" x2="109.66" y2="541.20" stroke="#141414" stroke-width="0.8"/>
<line x1="52.86" y1="539.20" x2="52.86" y2="541.20" stroke="#141414" stroke-width="0.8"/>
<line x1="54.72" y1="539.20" x2="54.72" y2="541.20" stroke="#141414" stroke-width="0.8"/>
<line x1="56.58" y1="539.20" x2="56.58" y2="541.20" stroke="#141414" stroke-width="0.8"/>
<line x1="62.78" y1="539.20" x2="62.78" y2="541.20" stroke="#141414" stroke-width="0.8"/>
<line x1="65.26" y1="539.20" x2="65.26" y2="541.20" stroke="#141414" stroke-width="0.8"/>
<line x1="67.74" y1="539.20" x2="67.74" y2="541.20" stroke="#141414" stroke-width="0.8"/>
<line x1="70.22" y1="539.20" x2="70.22" y2="541.20" stroke="#141414" stroke-width="0.8"/>
<line x1="72.08" y1="539.20" x2="72.08" y2="541.20" stroke="#141414" stroke-width="0.8"/>
<text x="57.86" y="552.30" font-size="7.0" textLength="3.37" lengthAdjust="spacingAndGlyphs" fill="#141414">0</text>
<text x="67.94" y="552.30" font-size="7.0" textLength="6.69" lengthAdjust="spacingAndGlyphs" fill="#141414">10</text>
<text x="75.12" y="549.40" font-size="5.4" textLength="2.06" lengthAdjust="spacingAndGlyphs" fill="#141414">1</text>
<text x="80.93" y="552.30" font-size="7.0" textLength="6.92" lengthAdjust="spacingAndGlyphs" fill="#141414">10</text>
<text x="88.05" y="549.40" font-size="5.4" textLength="2.81" lengthAdjust="spacingAndGlyphs" fill="#141414">2</text>
<text x="94.04" y="552.30" font-size="7.0" textLength="6.69" lengthAdjust="spacingAndGlyphs" fill="#141414">10</text>
<text x="101.15" y="549.40" font-size="5.4" textLength="2.23" lengthAdjust="spacingAndGlyphs" fill="#141414">3</text>
<text x="106.84" y="552.30" font-size="7.0" textLength="6.69" lengthAdjust="spacingAndGlyphs" fill="#141414">10</text>
<text x="113.79" y="549.40" font-size="5.4" textLength="2.65" lengthAdjust="spacingAndGlyphs" fill="#141414">4</text>
<rect x="135.4" y="478" width="61.599999999999994" height="61.39999999999998" fill="none" stroke="#141414" stroke-width="1.5"/>
<line x1="131.80" y1="539.40" x2="135.40" y2="539.40" stroke="#141414" stroke-width="1.1"/>
<line x1="133.40" y1="536.32" x2="135.40" y2="536.32" stroke="#141414" stroke-width="0.9"/>
<line x1="133.40" y1="533.24" x2="135.40" y2="533.24" stroke="#141414" stroke-width="0.9"/>
<line x1="133.40" y1="530.16" x2="135.40" y2="530.16" stroke="#141414" stroke-width="0.9"/>
<line x1="133.40" y1="527.08" x2="135.40" y2="527.08" stroke="#141414" stroke-width="0.9"/>
<line x1="131.80" y1="524.00" x2="135.40" y2="524.00" stroke="#141414" stroke-width="1.1"/>
<line x1="133.40" y1="520.92" x2="135.40" y2="520.92" stroke="#141414" stroke-width="0.9"/>
<line x1="133.40" y1="517.84" x2="135.40" y2="517.84" stroke="#141414" stroke-width="0.9"/>
<line x1="133.40" y1="514.76" x2="135.40" y2="514.76" stroke="#141414" stroke-width="0.9"/>
<line x1="133.40" y1="511.68" x2="135.40" y2="511.68" stroke="#141414" stroke-width="0.9"/>
<line x1="131.80" y1="508.60" x2="135.40" y2="508.60" stroke="#141414" stroke-width="1.1"/>
<line x1="133.40" y1="505.52" x2="135.40" y2="505.52" stroke="#141414" stroke-width="0.9"/>
<line x1="133.40" y1="502.44" x2="135.40" y2="502.44" stroke="#141414" stroke-width="0.9"/>
<line x1="133.40" y1="499.36" x2="135.40" y2="499.36" stroke="#141414" stroke-width="0.9"/>
<line x1="133.40" y1="496.28" x2="135.40" y2="496.28" stroke="#141414" stroke-width="0.9"/>
<line x1="131.80" y1="493.20" x2="135.40" y2="493.20" stroke="#141414" stroke-width="1.1"/>
<line x1="133.40" y1="490.12" x2="135.40" y2="490.12" stroke="#141414" stroke-width="0.9"/>
<line x1="133.40" y1="487.04" x2="135.40" y2="487.04" stroke="#141414" stroke-width="0.9"/>
<line x1="133.40" y1="483.96" x2="135.40" y2="483.96" stroke="#141414" stroke-width="0.9"/>
<line x1="133.40" y1="480.88" x2="135.40" y2="480.88" stroke="#141414" stroke-width="0.9"/>
<line x1="131.80" y1="477.80" x2="135.40" y2="477.80" stroke="#141414" stroke-width="1.1"/>
<line x1="144.02" y1="539.40" x2="144.02" y2="542.80" stroke="#141414" stroke-width="1.0"/>
<line x1="158.19" y1="539.40" x2="158.19" y2="542.80" stroke="#141414" stroke-width="1.0"/>
<line x1="170.20" y1="539.40" x2="170.20" y2="542.80" stroke="#141414" stroke-width="1.0"/>
<line x1="182.22" y1="539.40" x2="182.22" y2="542.80" stroke="#141414" stroke-width="1.0"/>
<line x1="194.23" y1="539.40" x2="194.23" y2="542.80" stroke="#141414" stroke-width="1.0"/>
<line x1="161.81" y1="539.40" x2="161.81" y2="541.40" stroke="#141414" stroke-width="0.8"/>
<line x1="163.92" y1="539.40" x2="163.92" y2="541.40" stroke="#141414" stroke-width="0.8"/>
<line x1="165.42" y1="539.40" x2="165.42" y2="541.40" stroke="#141414" stroke-width="0.8"/>
<line x1="166.59" y1="539.40" x2="166.59" y2="541.40" stroke="#141414" stroke-width="0.8"/>
<line x1="167.54" y1="539.40" x2="167.54" y2="541.40" stroke="#141414" stroke-width="0.8"/>
<line x1="168.34" y1="539.40" x2="168.34" y2="541.40" stroke="#141414" stroke-width="0.8"/>
<line x1="169.04" y1="539.40" x2="169.04" y2="541.40" stroke="#141414" stroke-width="0.8"/>
<line x1="169.65" y1="539.40" x2="169.65" y2="541.40" stroke="#141414" stroke-width="0.8"/>
<line x1="173.82" y1="539.40" x2="173.82" y2="541.40" stroke="#141414" stroke-width="0.8"/>
<line x1="175.94" y1="539.40" x2="175.94" y2="541.40" stroke="#141414" stroke-width="0.8"/>
<line x1="177.44" y1="539.40" x2="177.44" y2="541.40" stroke="#141414" stroke-width="0.8"/>
<line x1="178.60" y1="539.40" x2="178.60" y2="541.40" stroke="#141414" stroke-width="0.8"/>
<line x1="179.55" y1="539.40" x2="179.55" y2="541.40" stroke="#141414" stroke-width="0.8"/>
<line x1="180.36" y1="539.40" x2="180.36" y2="541.40" stroke="#141414" stroke-width="0.8"/>
<line x1="181.05" y1="539.40" x2="181.05" y2="541.40" stroke="#141414" stroke-width="0.8"/>
<line x1="181.67" y1="539.40" x2="181.67" y2="541.40" stroke="#141414" stroke-width="0.8"/>
<line x1="185.83" y1="539.40" x2="185.83" y2="541.40" stroke="#141414" stroke-width="0.8"/>
<line x1="187.95" y1="539.40" x2="187.95" y2="541.40" stroke="#141414" stroke-width="0.8"/>
<line x1="189.45" y1="539.40" x2="189.45" y2="541.40" stroke="#141414" stroke-width="0.8"/>
<line x1="190.61" y1="539.40" x2="190.61" y2="541.40" stroke="#141414" stroke-width="0.8"/>
<line x1="191.56" y1="539.40" x2="191.56" y2="541.40" stroke="#141414" stroke-width="0.8"/>
<line x1="192.37" y1="539.40" x2="192.37" y2="541.40" stroke="#141414" stroke-width="0.8"/>
<line x1="193.06" y1="539.40" x2="193.06" y2="541.40" stroke="#141414" stroke-width="0.8"/>
<line x1="193.68" y1="539.40" x2="193.68" y2="541.40" stroke="#141414" stroke-width="0.8"/>
<line x1="137.25" y1="539.40" x2="137.25" y2="541.40" stroke="#141414" stroke-width="0.8"/>
<line x1="139.10" y1="539.40" x2="139.10" y2="541.40" stroke="#141414" stroke-width="0.8"/>
<line x1="140.94" y1="539.40" x2="140.94" y2="541.40" stroke="#141414" stroke-width="0.8"/>
<line x1="147.10" y1="539.40" x2="147.10" y2="541.40" stroke="#141414" stroke-width="0.8"/>
<line x1="149.57" y1="539.40" x2="149.57" y2="541.40" stroke="#141414" stroke-width="0.8"/>
<line x1="152.03" y1="539.40" x2="152.03" y2="541.40" stroke="#141414" stroke-width="0.8"/>
<line x1="154.50" y1="539.40" x2="154.50" y2="541.40" stroke="#141414" stroke-width="0.8"/>
<line x1="156.34" y1="539.40" x2="156.34" y2="541.40" stroke="#141414" stroke-width="0.8"/>
<text x="142.26" y="552.50" font-size="7.0" textLength="3.37" lengthAdjust="spacingAndGlyphs" fill="#141414">0</text>
<text x="152.34" y="552.50" font-size="7.0" textLength="6.69" lengthAdjust="spacingAndGlyphs" fill="#141414">10</text>
<text x="159.52" y="549.60" font-size="5.4" textLength="2.06" lengthAdjust="spacingAndGlyphs" fill="#141414">1</text>
<text x="165.33" y="552.50" font-size="7.0" textLength="6.92" lengthAdjust="spacingAndGlyphs" fill="#141414">10</text>
<text x="172.45" y="549.60" font-size="5.4" textLength="2.81" lengthAdjust="spacingAndGlyphs" fill="#141414">2</text>
<text x="178.44" y="552.50" font-size="7.0" textLength="6.69" lengthAdjust="spacingAndGlyphs" fill="#141414">10</text>
<text x="185.55" y="549.60" font-size="5.4" textLength="2.23" lengthAdjust="spacingAndGlyphs" fill="#141414">3</text>
<text x="191.24" y="552.50" font-size="7.0" textLength="6.69" lengthAdjust="spacingAndGlyphs" fill="#141414">10</text>
<text x="198.19" y="549.60" font-size="5.4" textLength="2.65" lengthAdjust="spacingAndGlyphs" fill="#141414">4</text>
<path d="M58.2,458.6 L59.6,455.2 L60.4,455.0 L61.5,457.1 L62.5,458.1 L63.9,457.1 L65.9,451.3 L68.3,444.1 L69.2,443.2 L70.2,444.1 L71.2,440.8 L72.6,432.1 L74.0,422.5 L74.8,423.5 L75.5,429.2 L76.4,437.9 L77.9,443.7 L79.3,450.4 L80.8,456.2 L82.2,458.6" fill="none" stroke="#2f5391" stroke-width="1.05" stroke-linejoin="round"/>
<path d="M63.5,458.6 L66.8,458.1 L70.2,457.1 L72.1,454.2 L74.0,451.3 L75.5,449.9 L76.4,445.6 L77.4,439.8 L78.8,438.7 L80.3,439.8 L81.5,436.9 L82.7,438.8 L83.7,444.6 L85.1,452.3 L86.5,457.6 L88.0,458.6" fill="none" stroke="#c0203c" stroke-width="1.05" stroke-linejoin="round"/>
<path d="M142.2,458.6 L143.7,453.8 L145.1,452.3 L146.5,451.3 L148.0,448.9 L149.4,447.0 L150.4,441.7 L151.3,436.0 L152.3,433.1 L153.8,432.1 L155.2,428.8 L156.2,430.7 L157.6,432.1 L159.0,434.0 L160.0,438.8 L161.0,446.5 L161.9,451.3 L163.4,456.2 L165.8,457.6 L168.2,458.1 L169.6,458.6" fill="none" stroke="#2f5391" stroke-width="1.05" stroke-linejoin="round"/>
<path d="M149.9,458.6 L152.3,456.2 L155.2,452.3 L157.1,448.5 L158.6,445.6 L160.0,443.7 L160.8,436.9 L161.4,428.3 L162.1,427.3 L162.9,430.2 L163.8,436.9 L164.8,441.7 L166.3,444.6 L167.7,450.4 L169.6,454.2 L171.1,457.1 L172.5,455.7 L173.9,455.2 L175.4,457.1 L176.3,458.6 L179.7,458.1 L181.2,458.6" fill="none" stroke="#c0203c" stroke-width="1.05" stroke-linejoin="round"/>
<path d="M58.2,538.6 L59.6,537.6 L61.5,537.3 L64.4,537.6 L66.3,537.1 L67.8,535.2 L69.2,531.3 L70.7,526.5 L72.1,518.8 L73.1,509.2 L74.0,504.4 L75.0,502.5 L76.0,503.5 L76.9,501.5 L77.9,499.6 L78.8,501.5 L79.8,503.5 L80.8,506.8 L81.7,518.8 L82.7,528.5 L84.1,534.2 L86.1,537.1 L88.5,538.6" fill="none" stroke="#2f5391" stroke-width="1.05" stroke-linejoin="round"/>
<path d="M59.6,538.6 L62.5,538.1 L65.4,538.1 L67.3,537.1 L69.2,533.3 L71.2,527.5 L72.6,522.7 L74.0,521.3 L75.2,521.3 L76.2,516.9 L76.9,512.1 L77.9,510.2 L78.8,511.2 L79.8,515.0 L80.8,522.7 L81.7,529.4 L83.2,535.7 L84.6,538.1 L85.6,538.6" fill="none" stroke="#c0203c" stroke-width="1.05" stroke-linejoin="round"/>
<path d="M143.2,538.6 L145.6,538.1 L149.4,538.6 L151.8,535.2 L153.8,531.3 L155.2,523.2 L156.6,521.3 L158.1,515.0 L159.5,500.6 L161.0,496.7 L162.6,492.1 L163.8,498.7 L165.3,509.2 L166.7,520.8 L168.2,530.4 L169.6,532.8 L171.5,536.2 L173.5,538.6" fill="none" stroke="#2f5391" stroke-width="1.05" stroke-linejoin="round"/>
<path d="M144.6,538.6 L147.0,537.6 L149.4,538.6 L151.8,536.2 L154.2,532.3 L156.6,527.5 L158.6,518.8 L160.2,512.6 L161.4,516.4 L162.9,522.7 L164.8,529.4 L166.7,534.2 L168.2,533.3 L169.6,531.8 L171.5,532.8 L173.0,535.2 L174.4,538.6" fill="none" stroke="#c0203c" stroke-width="1.05" stroke-linejoin="round"/>
<line x1="200.60" y1="402.50" x2="210.60" y2="402.50" stroke="#2f5391" stroke-width="1.2"/>
<line x1="200.60" y1="416.60" x2="210.60" y2="416.60" stroke="#c0203c" stroke-width="1.2"/>
<text x="214.18" y="405.40" font-size="10.3" textLength="18.75" lengthAdjust="spacingAndGlyphs" fill="#141414">Ctrl.</text>
<text x="213.85" y="419.20" font-size="10.3" textLength="24.20" lengthAdjust="spacingAndGlyphs" fill="#141414">Depl.</text>
<line x1="200.60" y1="483.20" x2="210.60" y2="483.20" stroke="#2f5391" stroke-width="1.2"/>
<line x1="200.60" y1="497.30" x2="210.60" y2="497.30" stroke="#c0203c" stroke-width="1.2"/>
<text x="214.18" y="486.10" font-size="10.3" textLength="18.75" lengthAdjust="spacingAndGlyphs" fill="#141414">Ctrl.</text>
<text x="213.85" y="499.90" font-size="10.3" textLength="24.20" lengthAdjust="spacingAndGlyphs" fill="#141414">Depl.</text>
<line x1="47.00" y1="557.50" x2="112.90" y2="557.50" stroke="#141414" stroke-width="1.3"/>
<path d="M116.9,557.5 L110.4,554.6 L111.9,557.5 L110.4,560.4 Z" fill="#141414"/>
<line x1="128.50" y1="557.50" x2="194.40" y2="557.50" stroke="#141414" stroke-width="1.3"/>
<path d="M198.4,557.5 L191.9,554.6 L193.4,557.5 L191.9,560.4 Z" fill="#141414"/>
<text x="68.91" y="570.80" font-size="11.8" textLength="26.47" lengthAdjust="spacingAndGlyphs" fill="#141414">pStat5</text>
<text x="147.39" y="570.80" font-size="11.8" textLength="32.58" lengthAdjust="spacingAndGlyphs" fill="#141414">pErk1/2</text>
<text x="256.39" y="393.05" font-size="13.4" textLength="9.34" lengthAdjust="spacingAndGlyphs" font-weight="bold" fill="#141414" stroke="#141414" stroke-width="0.5" stroke-linejoin="round">H</text>
<text x="283.24" y="406.90" font-size="11.2" textLength="86.91" lengthAdjust="spacingAndGlyphs" fill="#141414">PDGFR blocking</text>
<text x="308.41" y="421.00" font-size="10" textLength="17.13" lengthAdjust="spacingAndGlyphs" fill="#141414">SCF</text>
<text x="310.16" y="432.60" font-size="8.8" textLength="25.07" lengthAdjust="spacingAndGlyphs" fill="#141414">p=0.8</text>
<g clip-path="url(#c9)"><rect x="299.00" y="447.00" width="21.80" height="73.40" fill="#1f3b73"/><rect x="299.00" y="447.00" width="21.80" height="73.40" fill="url(#g9)"/></g>
<line x1="309.90" y1="437.80" x2="309.90" y2="447.60" stroke="#141414" stroke-width="1.25"/>
<line x1="304.40" y1="437.80" x2="315.40" y2="437.80" stroke="#141414" stroke-width="1.25"/>
<g clip-path="url(#c10)"><rect x="331.80" y="439.80" width="22.00" height="80.60" fill="#a3001f"/><rect x="331.80" y="439.80" width="22.00" height="80.60" fill="url(#g10)"/></g>
<line x1="342.90" y1="432.30" x2="342.90" y2="440.40" stroke="#141414" stroke-width="1.25"/>
<line x1="337.60" y1="432.30" x2="348.20" y2="432.30" stroke="#141414" stroke-width="1.25"/>
<line x1="293.30" y1="418.00" x2="293.30" y2="521.12" stroke="#141414" stroke-width="1.45"/>
<line x1="289.70" y1="421.00" x2="293.30" y2="421.00" stroke="#141414" stroke-width="1.45"/>
<text x="269.69" y="424.24" font-size="10.0" textLength="16.18" lengthAdjust="spacingAndGlyphs" fill="#141414">800</text>
<line x1="289.70" y1="445.80" x2="293.30" y2="445.80" stroke="#141414" stroke-width="1.45"/>
<text x="269.69" y="449.04" font-size="10.0" textLength="16.18" lengthAdjust="spacingAndGlyphs" fill="#141414">600</text>
<line x1="289.70" y1="470.65" x2="293.30" y2="470.65" stroke="#141414" stroke-width="1.45"/>
<text x="269.69" y="473.89" font-size="10.0" textLength="16.18" lengthAdjust="spacingAndGlyphs" fill="#141414">400</text>
<line x1="289.70" y1="495.50" x2="293.30" y2="495.50" stroke="#141414" stroke-width="1.45"/>
<text x="269.69" y="498.74" font-size="10.0" textLength="16.18" lengthAdjust="spacingAndGlyphs" fill="#141414">200</text>
<line x1="289.70" y1="520.30" x2="293.30" y2="520.30" stroke="#141414" stroke-width="1.45"/>
<text x="280.48" y="523.54" font-size="10.0" textLength="5.39" lengthAdjust="spacingAndGlyphs" fill="#141414">0</text>
<line x1="292.57" y1="520.40" x2="359.70" y2="520.40" stroke="#141414" stroke-width="1.45"/>
<line x1="309.90" y1="520.40" x2="309.90" y2="523.70" stroke="#141414" stroke-width="1.45"/>
<line x1="342.90" y1="520.40" x2="342.90" y2="523.70" stroke="#141414" stroke-width="1.45"/>
<text x="300.06" y="535.90" font-size="9.5" textLength="19.40" lengthAdjust="spacingAndGlyphs" fill="#141414">Ctrl.</text>
<text x="330.83" y="535.90" font-size="9.5" textLength="24.63" lengthAdjust="spacingAndGlyphs" fill="#141414">Depl.</text>
<text transform="translate(265.50,516.20) rotate(-90)" x="-0.52" y="0" font-size="11.2" textLength="97.15" lengthAdjust="spacingAndGlyphs" fill="#141414">Concentration [pg/ml]</text>
<text x="392.70" y="393.05" font-size="13.4" textLength="2.70" lengthAdjust="spacingAndGlyphs" font-weight="bold" fill="#141414" stroke="#141414" stroke-width="0.5" stroke-linejoin="round">I</text>
<text x="412.55" y="406.90" font-size="11.2" textLength="85.89" lengthAdjust="spacingAndGlyphs" fill="#141414">PDGFR blocking</text>
<text x="438.78" y="428.00" font-size="8.8" textLength="24.20" lengthAdjust="spacingAndGlyphs" fill="#141414">p=0.2</text>
<g clip-path="url(#c11)"><rect x="427.70" y="447.90" width="21.90" height="72.50" fill="#1f3b73"/><rect x="427.70" y="447.90" width="21.90" height="72.50" fill="url(#g11)"/></g>
<line x1="438.60" y1="441.20" x2="438.60" y2="448.50" stroke="#141414" stroke-width="1.25"/>
<line x1="433.10" y1="441.20" x2="444.10" y2="441.20" stroke="#141414" stroke-width="1.25"/>
<g clip-path="url(#c12)"><rect x="461.10" y="437.80" width="22.00" height="82.60" fill="#a3001f"/><rect x="461.10" y="437.80" width="22.00" height="82.60" fill="url(#g12)"/></g>
<line x1="472.10" y1="428.60" x2="472.10" y2="438.40" stroke="#141414" stroke-width="1.25"/>
<line x1="466.60" y1="428.60" x2="477.60" y2="428.60" stroke="#141414" stroke-width="1.25"/>
<line x1="422.00" y1="417.00" x2="422.00" y2="521.12" stroke="#141414" stroke-width="1.45"/>
<line x1="418.40" y1="420.00" x2="422.00" y2="420.00" stroke="#141414" stroke-width="1.45"/>
<text x="403.79" y="423.24" font-size="10.0" textLength="10.79" lengthAdjust="spacingAndGlyphs" fill="#141414">30</text>
<line x1="418.40" y1="453.40" x2="422.00" y2="453.40" stroke="#141414" stroke-width="1.45"/>
<text x="403.79" y="456.64" font-size="10.0" textLength="10.79" lengthAdjust="spacingAndGlyphs" fill="#141414">20</text>
<line x1="418.40" y1="486.90" x2="422.00" y2="486.90" stroke="#141414" stroke-width="1.45"/>
<text x="403.79" y="490.14" font-size="10.0" textLength="10.79" lengthAdjust="spacingAndGlyphs" fill="#141414">10</text>
<line x1="418.40" y1="520.30" x2="422.00" y2="520.30" stroke="#141414" stroke-width="1.45"/>
<text x="409.18" y="523.54" font-size="10.0" textLength="5.39" lengthAdjust="spacingAndGlyphs" fill="#141414">0</text>
<line x1="421.27" y1="520.40" x2="488.30" y2="520.40" stroke="#141414" stroke-width="1.45"/>
<line x1="438.60" y1="520.40" x2="438.60" y2="523.70" stroke="#141414" stroke-width="1.45"/>
<line x1="471.50" y1="520.40" x2="471.50" y2="523.70" stroke="#141414" stroke-width="1.45"/>
<text x="428.54" y="535.90" font-size="9.5" textLength="20.38" lengthAdjust="spacingAndGlyphs" fill="#141414">Ctrl.</text>
<text x="459.11" y="535.90" font-size="9.5" textLength="25.28" lengthAdjust="spacingAndGlyphs" fill="#141414">Depl.</text>
<text transform="translate(395.50,524.40) rotate(-90)" x="-0.73" y="0" font-size="9.2" textLength="111.67" lengthAdjust="spacingAndGlyphs" fill="#141414">Frequency of SCF+ Mks [%]</text>
<rect x="0" y="0" width="520" height="1" fill="#000"/>
<rect x="0" y="0" width="1" height="582" fill="#000"/>
<rect x="518.5" y="0" width="1.5" height="582" fill="#000"/>
<rect x="0" y="580.5" width="520" height="1.5" fill="#000"/>
</svg>
</body></html>
